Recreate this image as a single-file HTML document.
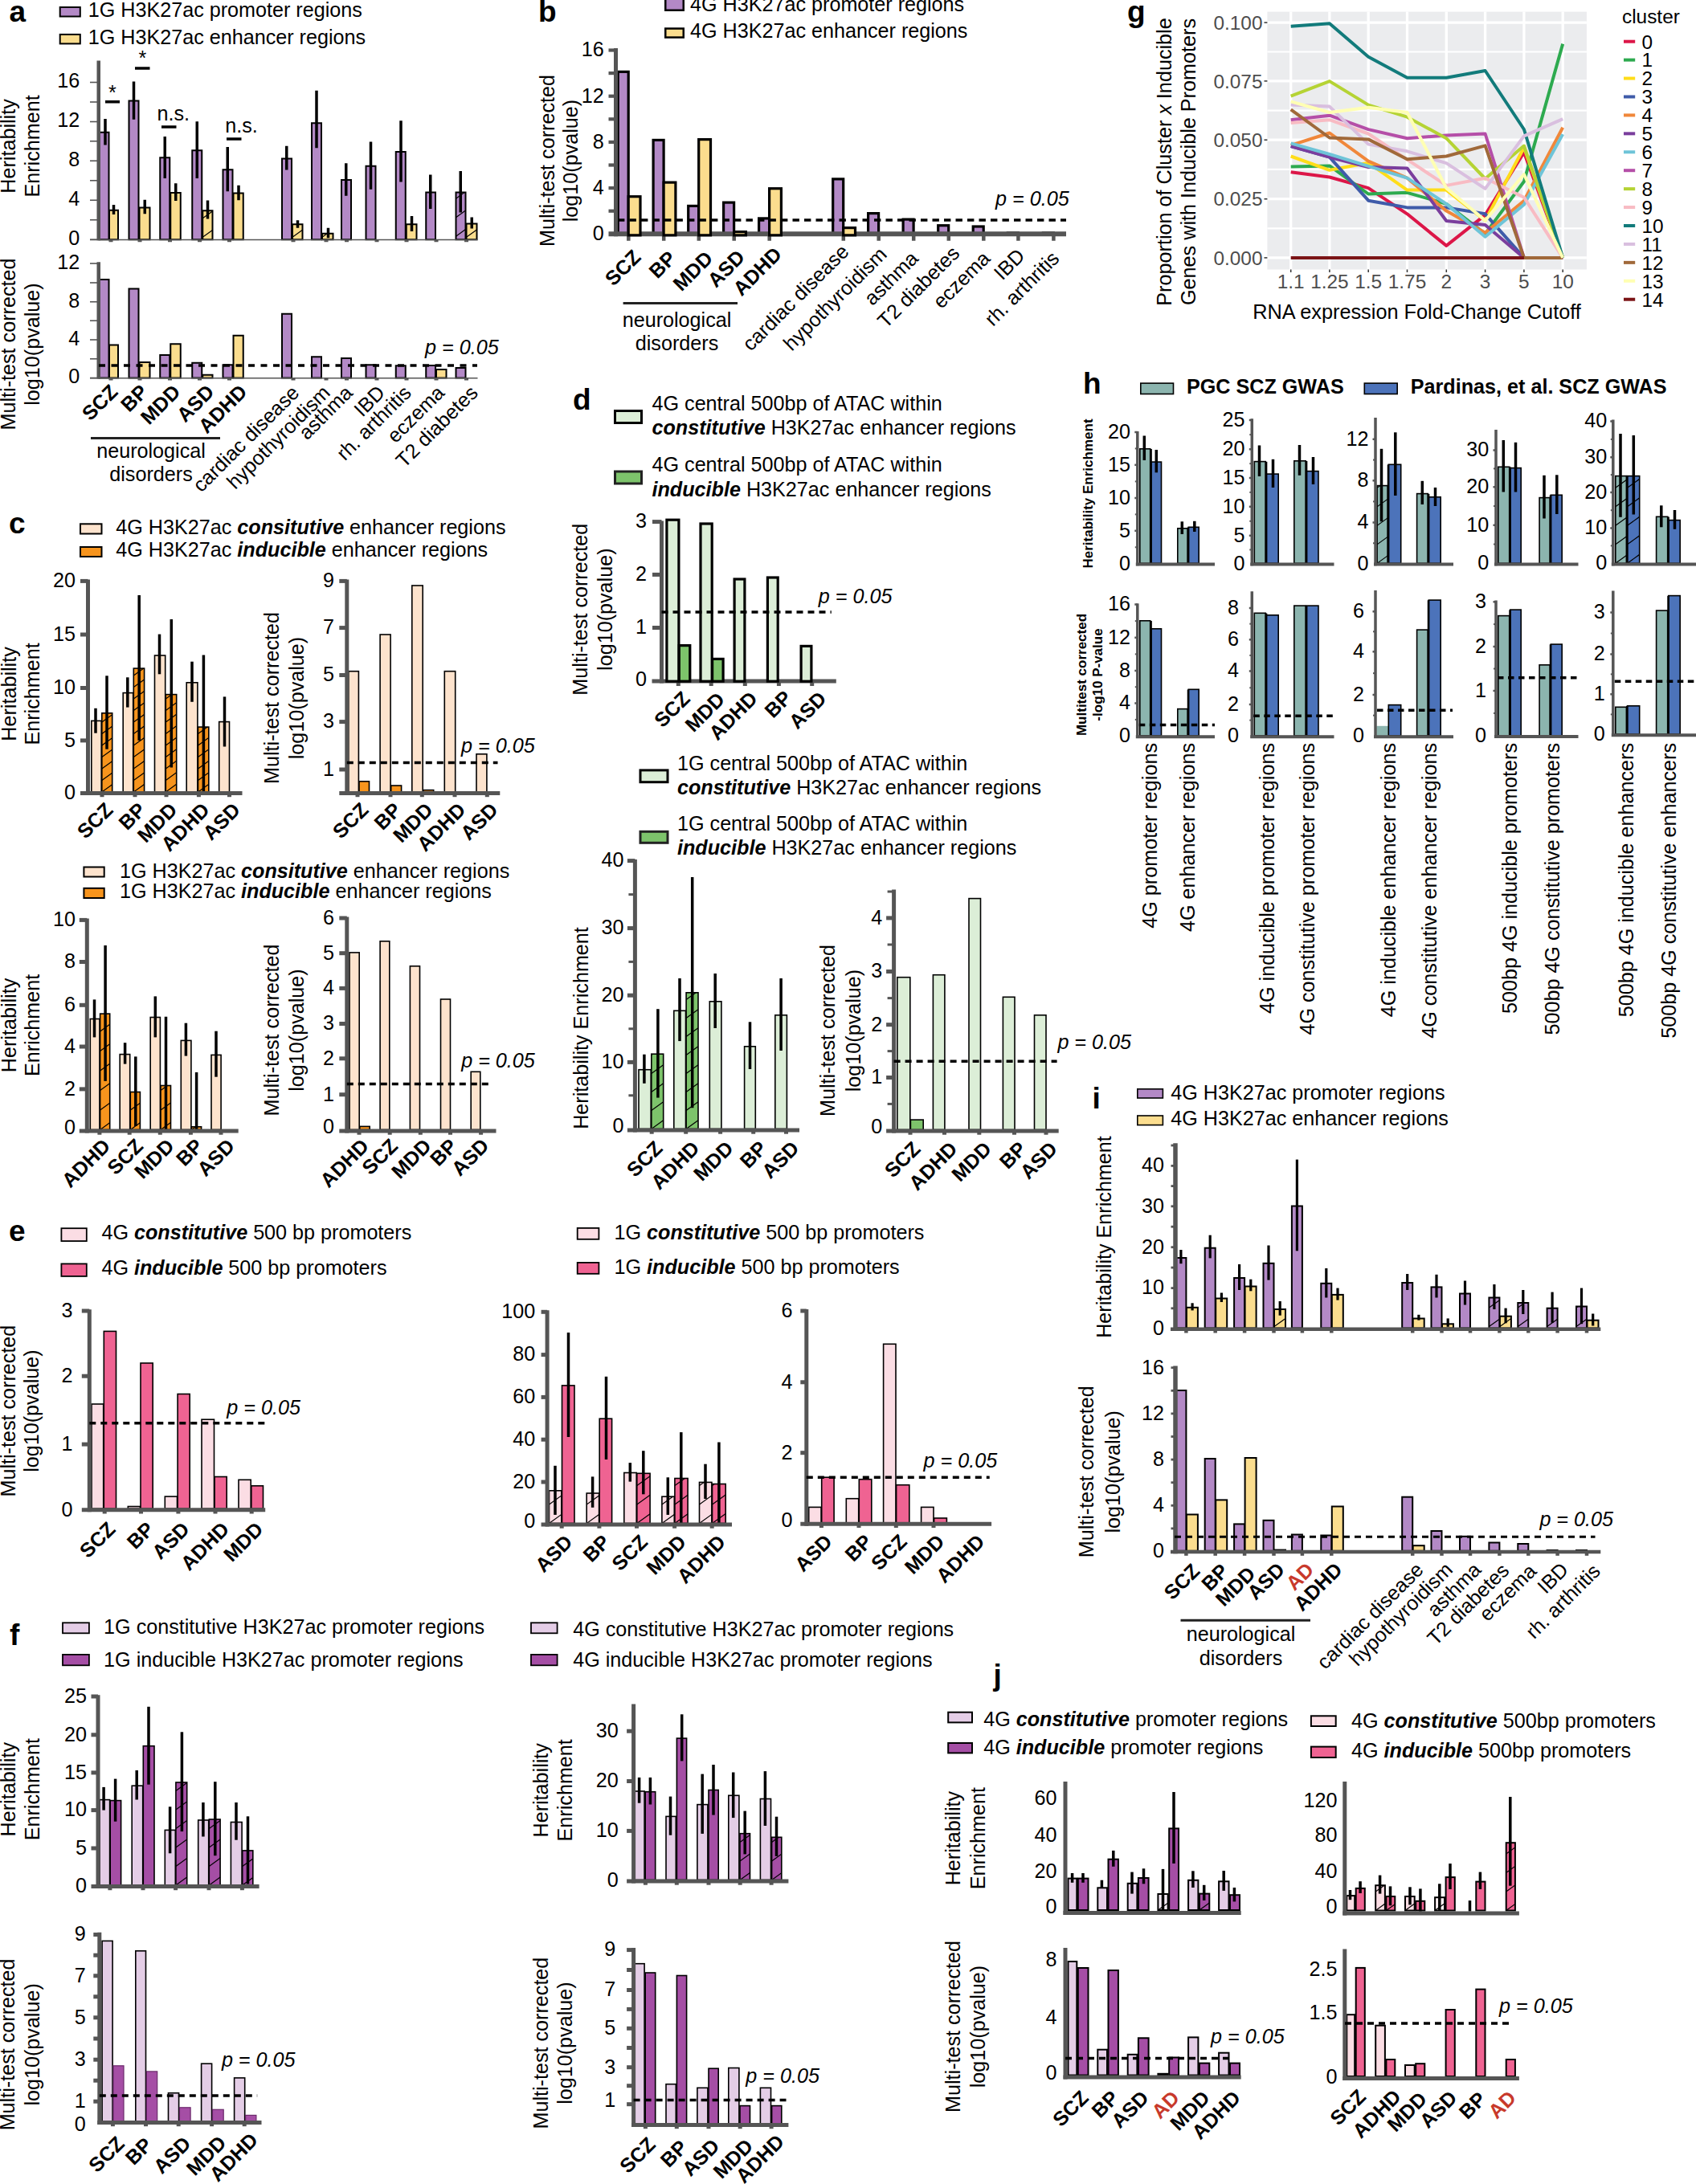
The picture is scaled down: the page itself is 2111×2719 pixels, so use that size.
<!DOCTYPE html>
<html><head><meta charset="utf-8"><title>Figure</title>
<style>html,body{margin:0;padding:0;background:#fff}svg{display:block}text{font-family:"Liberation Sans",sans-serif}</style>
</head><body>
<svg width="2111" height="2719" viewBox="0 0 2111 2719" font-size="25.17" fill="#000">
<rect width="2111" height="2719" fill="#fff"/>
<text font-weight="bold" font-size="37" x="11.5" y="27">a</text><rect x="74.7" y="9" width="25.1" height="11.5" fill="#B389C6" stroke="#000" stroke-width="2"/><text x="109.7" y="20.6">1G H3K27ac promoter regions</text><rect x="74.7" y="42.9" width="25.1" height="11.5" fill="#FBDD8E" stroke="#000" stroke-width="2"/><text x="109.7" y="54.5">1G H3K27ac enhancer regions</text><rect x="123.5" y="164.75" width="12" height="133.5" fill="#B389C6" stroke="#000" stroke-width="2"/><line x1="131" y1="148" x2="131" y2="180.5" stroke="#000" stroke-width="3.5"/><rect x="136" y="261.75" width="11" height="36.5" fill="#FBDD8E" stroke="#000" stroke-width="2"/><line x1="141.5" y1="255" x2="141.5" y2="267" stroke="#000" stroke-width="3.5"/><rect x="160.5" y="125.5" width="12" height="172.75" fill="#B389C6" stroke="#000" stroke-width="2"/><line x1="166.5" y1="101.5" x2="166.5" y2="148.75" stroke="#000" stroke-width="3.5"/><rect x="173.5" y="258.5" width="13" height="39.75" fill="#FBDD8E" stroke="#000" stroke-width="2"/><line x1="180.25" y1="248.75" x2="180.25" y2="266.25" stroke="#000" stroke-width="3.5"/><rect x="199.25" y="196.25" width="12" height="102" fill="#B389C6" stroke="#000" stroke-width="2"/><line x1="205.25" y1="170" x2="205.25" y2="222" stroke="#000" stroke-width="3.5"/><rect x="212.25" y="240" width="12.5" height="58.25" fill="#FBDD8E" stroke="#000" stroke-width="2"/><line x1="218.75" y1="228.25" x2="218.75" y2="250" stroke="#000" stroke-width="3.5"/><rect x="239.25" y="187.25" width="12" height="111" fill="#B389C6" stroke="#000" stroke-width="2"/><line x1="245.25" y1="151.25" x2="245.25" y2="222" stroke="#000" stroke-width="3.5"/><rect x="252.25" y="262.25" width="12.25" height="36" fill="#FBDD8E" stroke="#000" stroke-width="2"/><clipPath id="h1"><rect x="252.25" y="262.25" width="12.25" height="36"/></clipPath><path d="M252.25 295.25L264.5 286.43M252.25 271.75L264.5 262.93M252.25 248.25L264.5 239.43" stroke="#000" stroke-width="1.2" fill="none" clip-path="url(#h1)"/><line x1="258.5" y1="249.5" x2="258.5" y2="272.5" stroke="#000" stroke-width="3.5"/><rect x="277.5" y="211.25" width="12" height="87" fill="#B389C6" stroke="#000" stroke-width="2"/><line x1="283.25" y1="183" x2="283.25" y2="238.25" stroke="#000" stroke-width="3.5"/><rect x="290.5" y="240.5" width="12.25" height="57.75" fill="#FBDD8E" stroke="#000" stroke-width="2"/><line x1="297" y1="230.75" x2="297" y2="249.25" stroke="#000" stroke-width="3.5"/><rect x="351" y="197.5" width="12" height="100.75" fill="#B389C6" stroke="#000" stroke-width="2"/><line x1="356.75" y1="181.75" x2="356.75" y2="211.5" stroke="#000" stroke-width="3.5"/><rect x="364" y="279.25" width="12.5" height="19" fill="#FBDD8E" stroke="#000" stroke-width="2"/><clipPath id="h2"><rect x="364" y="279.25" width="12.5" height="19"/></clipPath><path d="M364 295.25L376.5 286.25M364 271.75L376.5 262.75M364 248.25L376.5 239.25" stroke="#000" stroke-width="1.2" fill="none" clip-path="url(#h2)"/><line x1="370.5" y1="274.25" x2="370.5" y2="283.75" stroke="#000" stroke-width="3.5"/><rect x="388" y="153.25" width="12" height="145" fill="#B389C6" stroke="#000" stroke-width="2"/><line x1="394" y1="112.75" x2="394" y2="184.25" stroke="#000" stroke-width="3.5"/><rect x="401" y="290.75" width="13.5" height="7.5" fill="#FBDD8E" stroke="#000" stroke-width="2"/><clipPath id="h3"><rect x="401" y="290.75" width="13.5" height="7.5"/></clipPath><path d="M401 295.25L414.5 285.53M401 271.75L414.5 262.03" stroke="#000" stroke-width="1.2" fill="none" clip-path="url(#h3)"/><line x1="408.5" y1="283.75" x2="408.5" y2="296.25" stroke="#000" stroke-width="3.5"/><rect x="425" y="224" width="12" height="74.25" fill="#B389C6" stroke="#000" stroke-width="2"/><line x1="430.75" y1="203.25" x2="430.75" y2="243.75" stroke="#000" stroke-width="3.5"/><rect x="455.5" y="206.75" width="12" height="91.5" fill="#B389C6" stroke="#000" stroke-width="2"/><line x1="461.5" y1="176.5" x2="461.5" y2="235.75" stroke="#000" stroke-width="3.5"/><rect x="492.75" y="189" width="12" height="109.25" fill="#B389C6" stroke="#000" stroke-width="2"/><line x1="499" y1="150.25" x2="499" y2="226.5" stroke="#000" stroke-width="3.5"/><rect x="505.75" y="279.25" width="12.75" height="19" fill="#FBDD8E" stroke="#000" stroke-width="2"/><line x1="512.5" y1="269" x2="512.5" y2="288" stroke="#000" stroke-width="3.5"/><rect x="530.25" y="239.5" width="11.75" height="58.75" fill="#B389C6" stroke="#000" stroke-width="2"/><line x1="535.75" y1="217.5" x2="535.75" y2="260" stroke="#000" stroke-width="3.5"/><rect x="567.5" y="239.5" width="12" height="58.75" fill="#B389C6" stroke="#000" stroke-width="2"/><clipPath id="h4"><rect x="567.5" y="239.5" width="12" height="58.75"/></clipPath><path d="M567.5 294.25L579.5 285.61M567.5 270.75L579.5 262.11M567.5 247.25L579.5 238.61M567.5 223.75L579.5 215.11" stroke="#000" stroke-width="1.2" fill="none" clip-path="url(#h4)"/><line x1="573.25" y1="213" x2="573.25" y2="264.5" stroke="#000" stroke-width="3.5"/><rect x="580.5" y="278.5" width="13" height="19.75" fill="#FBDD8E" stroke="#000" stroke-width="2"/><clipPath id="h5"><rect x="580.5" y="278.5" width="13" height="19.75"/></clipPath><path d="M580.5 295.25L593.5 285.89M580.5 271.75L593.5 262.39M580.5 248.25L593.5 238.89" stroke="#000" stroke-width="1.2" fill="none" clip-path="url(#h5)"/><line x1="587.25" y1="270.5" x2="587.25" y2="284.5" stroke="#000" stroke-width="3.5"/><line x1="112" y1="298.55" x2="594.5" y2="298.55" stroke="#555555" stroke-width="1.6"/><rect x="135.5" y="298.75" width="5" height="2.5" fill="#555555"/><rect x="171.5" y="298.75" width="5" height="2.5" fill="#555555"/><rect x="209" y="298.75" width="5" height="2.5" fill="#555555"/><rect x="246" y="298.75" width="5" height="2.5" fill="#555555"/><rect x="283" y="298.75" width="5" height="2.5" fill="#555555"/><rect x="362.5" y="298.75" width="5" height="2.5" fill="#555555"/><rect x="403.5" y="298.75" width="5" height="2.5" fill="#555555"/><rect x="429" y="298.75" width="5" height="2.5" fill="#555555"/><rect x="466.5" y="298.75" width="5" height="2.5" fill="#555555"/><rect x="503.5" y="298.75" width="5" height="2.5" fill="#555555"/><rect x="540.5" y="298.75" width="5" height="2.5" fill="#555555"/><rect x="578" y="298.75" width="5" height="2.5" fill="#555555"/><line x1="122.75" y1="75.5" x2="122.75" y2="299.25" stroke="#555555" stroke-width="4.5"/><line x1="112" y1="102.5" x2="123" y2="102.5" stroke="#555555" stroke-width="1.6"/><line x1="112" y1="127" x2="123" y2="127" stroke="#555555" stroke-width="1.6"/><line x1="112" y1="151.5" x2="123" y2="151.5" stroke="#555555" stroke-width="1.6"/><line x1="112" y1="175.75" x2="123" y2="175.75" stroke="#555555" stroke-width="1.6"/><line x1="112" y1="200.25" x2="123" y2="200.25" stroke="#555555" stroke-width="1.6"/><line x1="112" y1="224.75" x2="123" y2="224.75" stroke="#555555" stroke-width="1.6"/><line x1="112" y1="249.25" x2="123" y2="249.25" stroke="#555555" stroke-width="1.6"/><line x1="112" y1="273.75" x2="123" y2="273.75" stroke="#555555" stroke-width="1.6"/><line x1="112" y1="298.25" x2="123" y2="298.25" stroke="#555555" stroke-width="1.6"/><text text-anchor="end" x="99.3" y="109.38">16</text><text text-anchor="end" x="99.3" y="158.38">12</text><text text-anchor="end" x="99.3" y="207.12">8</text><text text-anchor="end" x="99.3" y="256.12">4</text><text text-anchor="end" x="99.3" y="305.12">0</text><text text-anchor="middle" transform="translate(19 182) rotate(-90)">Heritability</text><text text-anchor="middle" transform="translate(48.5 182) rotate(-90)">Enrichment</text><line x1="131" y1="126.75" x2="149" y2="126.75" stroke="#000" stroke-width="3.5"/><text text-anchor="middle" x="140" y="124">*</text><line x1="168" y1="85" x2="186.5" y2="85" stroke="#000" stroke-width="3.5"/><text text-anchor="middle" x="177.3" y="81">*</text><line x1="201" y1="158" x2="219.5" y2="158" stroke="#000" stroke-width="3.5"/><text x="195.5" y="150">n.s.</text><line x1="282" y1="173" x2="300.5" y2="173" stroke="#000" stroke-width="3.5"/><text x="280.3" y="165">n.s.</text><rect x="123.5" y="348" width="12" height="122.5" fill="#B389C6" stroke="#000" stroke-width="2"/><rect x="136" y="429.5" width="11" height="41" fill="#FBDD8E" stroke="#000" stroke-width="2"/><rect x="160.5" y="359.5" width="12" height="111" fill="#B389C6" stroke="#000" stroke-width="2"/><rect x="173.5" y="451" width="13" height="19.5" fill="#FBDD8E" stroke="#000" stroke-width="2"/><rect x="199.25" y="442" width="12" height="28.5" fill="#B389C6" stroke="#000" stroke-width="2"/><rect x="212.25" y="428.25" width="12.5" height="42.25" fill="#FBDD8E" stroke="#000" stroke-width="2"/><rect x="239.25" y="451.75" width="12" height="18.75" fill="#B389C6" stroke="#000" stroke-width="2"/><rect x="252.25" y="466.75" width="12.25" height="3.75" fill="#FBDD8E" stroke="#000" stroke-width="2"/><rect x="277.5" y="454.25" width="12" height="16.25" fill="#B389C6" stroke="#000" stroke-width="2"/><rect x="290.5" y="417.75" width="12.25" height="52.75" fill="#FBDD8E" stroke="#000" stroke-width="2"/><rect x="351" y="390.75" width="12" height="79.75" fill="#B389C6" stroke="#000" stroke-width="2"/><rect x="388" y="444.25" width="12" height="26.25" fill="#B389C6" stroke="#000" stroke-width="2"/><rect x="425" y="446" width="12" height="24.5" fill="#B389C6" stroke="#000" stroke-width="2"/><rect x="455.5" y="454.25" width="12" height="16.25" fill="#B389C6" stroke="#000" stroke-width="2"/><rect x="492.75" y="455.25" width="12" height="15.25" fill="#B389C6" stroke="#000" stroke-width="2"/><rect x="530.25" y="455" width="11.75" height="15.5" fill="#B389C6" stroke="#000" stroke-width="2"/><rect x="543" y="460" width="12.5" height="10.5" fill="#FBDD8E" stroke="#000" stroke-width="2"/><rect x="567.5" y="458" width="12" height="12.5" fill="#B389C6" stroke="#000" stroke-width="2"/><line x1="112" y1="470.8" x2="594.5" y2="470.8" stroke="#555555" stroke-width="1.6"/><rect x="135.5" y="471" width="5" height="2.5" fill="#555555"/><rect x="171.5" y="471" width="5" height="2.5" fill="#555555"/><rect x="209" y="471" width="5" height="2.5" fill="#555555"/><rect x="246" y="471" width="5" height="2.5" fill="#555555"/><rect x="283" y="471" width="5" height="2.5" fill="#555555"/><rect x="362.5" y="471" width="5" height="2.5" fill="#555555"/><rect x="403.5" y="471" width="5" height="2.5" fill="#555555"/><rect x="429" y="471" width="5" height="2.5" fill="#555555"/><rect x="466.5" y="471" width="5" height="2.5" fill="#555555"/><rect x="503.5" y="471" width="5" height="2.5" fill="#555555"/><rect x="540.5" y="471" width="5" height="2.5" fill="#555555"/><rect x="578" y="471" width="5" height="2.5" fill="#555555"/><line x1="122.75" y1="326.25" x2="122.75" y2="471.5" stroke="#555555" stroke-width="4.5"/><line x1="112" y1="328" x2="123" y2="328" stroke="#555555" stroke-width="1.6"/><line x1="112" y1="352" x2="123" y2="352" stroke="#555555" stroke-width="1.6"/><line x1="112" y1="375.75" x2="123" y2="375.75" stroke="#555555" stroke-width="1.6"/><line x1="112" y1="399.25" x2="123" y2="399.25" stroke="#555555" stroke-width="1.6"/><line x1="112" y1="423" x2="123" y2="423" stroke="#555555" stroke-width="1.6"/><line x1="112" y1="446.75" x2="123" y2="446.75" stroke="#555555" stroke-width="1.6"/><line x1="112" y1="470.5" x2="123" y2="470.5" stroke="#555555" stroke-width="1.6"/><text text-anchor="end" x="99.3" y="334.88">12</text><text text-anchor="end" x="99.3" y="382.62">8</text><text text-anchor="end" x="99.3" y="429.88">4</text><text text-anchor="end" x="99.3" y="477.38">0</text><text text-anchor="middle" transform="translate(19 428.5) rotate(-90)">Multi-test corrected</text><text text-anchor="middle" transform="translate(48.5 428.5) rotate(-90)">log10(pvalue)</text><line x1="123" y1="455" x2="594" y2="455" stroke="#000" stroke-width="3.5" stroke-dasharray="8 7.5"/><text font-style="italic" x="529" y="441">p = 0.05</text><text text-anchor="end" font-weight="bold" transform="translate(148 489.5) rotate(-45)">SCZ</text><text text-anchor="end" font-weight="bold" transform="translate(185.5 489.5) rotate(-45)">BP</text><text text-anchor="end" font-weight="bold" transform="translate(226 489.5) rotate(-45)">MDD</text><text text-anchor="end" font-weight="bold" transform="translate(268 489.5) rotate(-45)">ASD</text><text text-anchor="end" font-weight="bold" transform="translate(309 489.5) rotate(-45)">ADHD</text><text text-anchor="end" transform="translate(374 490.5) rotate(-45)">cardiac disease</text><text text-anchor="end" transform="translate(412.4 490.5) rotate(-45)">hypothyroidism</text><text text-anchor="end" transform="translate(440.5 490.5) rotate(-45)">asthma</text><text text-anchor="end" transform="translate(480.6 490.5) rotate(-45)">IBD</text><text text-anchor="end" transform="translate(513.3 490.5) rotate(-45)">rh. arthritis</text><text text-anchor="end" transform="translate(554.6 490.5) rotate(-45)">eczema</text><text text-anchor="end" transform="translate(596.3 490.5) rotate(-45)">T2 diabetes</text><line x1="113" y1="545.5" x2="274" y2="545.5" stroke="#222" stroke-width="3"/><text text-anchor="middle" x="188" y="570">neurological</text><text text-anchor="middle" x="188" y="599">disorders</text><text font-weight="bold" font-size="37" x="670" y="27">b</text><rect x="828.25" y="-1.75" width="22.5" height="14.5" fill="#B389C6" stroke="#000" stroke-width="2.5"/><text x="859" y="13.8">4G H3K27ac promoter regions</text><rect x="828.25" y="35.55" width="22.5" height="11" fill="#FBDD8E" stroke="#000" stroke-width="2.5"/><text x="859" y="47.3">4G H3K27ac enhancer regions</text><rect x="769.2" y="89.35" width="13" height="202.3" fill="#B389C6" stroke="#000" stroke-width="3.2"/><rect x="813.1" y="174.4" width="13" height="117.25" fill="#B389C6" stroke="#000" stroke-width="3.2"/><rect x="856.7" y="256.4" width="13" height="35.25" fill="#B389C6" stroke="#000" stroke-width="3.2"/><rect x="900.6" y="252.1" width="13" height="39.55" fill="#B389C6" stroke="#000" stroke-width="3.2"/><rect x="944.6" y="271.9" width="13" height="19.75" fill="#B389C6" stroke="#000" stroke-width="3.2"/><rect x="1036.7" y="222.9" width="13" height="68.75" fill="#B389C6" stroke="#000" stroke-width="3.2"/><rect x="1080.6" y="265.6" width="13" height="26.05" fill="#B389C6" stroke="#000" stroke-width="3.2"/><rect x="1124.1" y="273.1" width="13" height="18.55" fill="#B389C6" stroke="#000" stroke-width="3.2"/><rect x="1167.7" y="280.7" width="13" height="10.95" fill="#B389C6" stroke="#000" stroke-width="3.2"/><rect x="1211.2" y="282" width="13" height="9.65" fill="#B389C6" stroke="#000" stroke-width="3.2"/><rect x="1254.3" y="289.9" width="13" height="1.75" fill="#B389C6" stroke="#000" stroke-width="3.2"/><rect x="1298.3" y="289.9" width="13" height="1.75" fill="#B389C6" stroke="#000" stroke-width="3.2"/><line x1="757.5" y1="291.25" x2="1327" y2="291.25" stroke="#555555" stroke-width="6"/><line x1="782.3" y1="293.75" x2="782.3" y2="299.75" stroke="#555555" stroke-width="4.5"/><line x1="826.2" y1="293.75" x2="826.2" y2="299.75" stroke="#555555" stroke-width="4.5"/><line x1="869.8" y1="293.75" x2="869.8" y2="299.75" stroke="#555555" stroke-width="4.5"/><line x1="913.7" y1="293.75" x2="913.7" y2="299.75" stroke="#555555" stroke-width="4.5"/><line x1="957.7" y1="293.75" x2="957.7" y2="299.75" stroke="#555555" stroke-width="4.5"/><line x1="1049.8" y1="293.75" x2="1049.8" y2="299.75" stroke="#555555" stroke-width="4.5"/><line x1="1093.7" y1="293.75" x2="1093.7" y2="299.75" stroke="#555555" stroke-width="4.5"/><line x1="1137.2" y1="293.75" x2="1137.2" y2="299.75" stroke="#555555" stroke-width="4.5"/><line x1="1180.8" y1="293.75" x2="1180.8" y2="299.75" stroke="#555555" stroke-width="4.5"/><line x1="1224.3" y1="293.75" x2="1224.3" y2="299.75" stroke="#555555" stroke-width="4.5"/><line x1="1267.4" y1="293.75" x2="1267.4" y2="299.75" stroke="#555555" stroke-width="4.5"/><line x1="1311.4" y1="293.75" x2="1311.4" y2="299.75" stroke="#555555" stroke-width="4.5"/><rect x="782.2" y="244.7" width="14.8" height="48.15" fill="#FBDD8E" stroke="#000" stroke-width="3.2"/><rect x="826.1" y="227.1" width="14.8" height="65.75" fill="#FBDD8E" stroke="#000" stroke-width="3.2"/><rect x="869.7" y="173.6" width="14.8" height="119.25" fill="#FBDD8E" stroke="#000" stroke-width="3.2"/><rect x="913.6" y="288.6" width="14.8" height="4.25" fill="#FBDD8E" stroke="#000" stroke-width="3.2"/><rect x="957.6" y="234.7" width="14.8" height="58.15" fill="#FBDD8E" stroke="#000" stroke-width="3.2"/><rect x="1049.7" y="283.6" width="14.8" height="9.25" fill="#FBDD8E" stroke="#000" stroke-width="3.2"/><line x1="766.5" y1="60" x2="766.5" y2="294.25" stroke="#555555" stroke-width="5"/><line x1="757.5" y1="62.5" x2="766.5" y2="62.5" stroke="#555555" stroke-width="4.2"/><line x1="757.5" y1="91.1" x2="766.5" y2="91.1" stroke="#555555" stroke-width="4.2"/><line x1="757.5" y1="119.7" x2="766.5" y2="119.7" stroke="#555555" stroke-width="4.2"/><line x1="757.5" y1="148.3" x2="766.5" y2="148.3" stroke="#555555" stroke-width="4.2"/><line x1="757.5" y1="176.9" x2="766.5" y2="176.9" stroke="#555555" stroke-width="4.2"/><line x1="757.5" y1="205.5" x2="766.5" y2="205.5" stroke="#555555" stroke-width="4.2"/><line x1="757.5" y1="234.1" x2="766.5" y2="234.1" stroke="#555555" stroke-width="4.2"/><line x1="757.5" y1="262.7" x2="766.5" y2="262.7" stroke="#555555" stroke-width="4.2"/><text text-anchor="end" x="751.7" y="70.38">16</text><text text-anchor="end" x="751.7" y="127.58">12</text><text text-anchor="end" x="751.7" y="184.78">8</text><text text-anchor="end" x="751.7" y="241.97">4</text><text text-anchor="end" x="751.7" y="299.12">0</text><text text-anchor="middle" transform="translate(689.5 200) rotate(-90)">Multi-test corrected</text><text text-anchor="middle" transform="translate(718.5 200) rotate(-90)">log10(pvalue)</text><line x1="769" y1="274" x2="1327" y2="274" stroke="#000" stroke-width="3.4" stroke-dasharray="8.4 6.1"/><text font-style="italic" x="1239" y="256">p = 0.05</text><text text-anchor="end" font-weight="bold" transform="translate(799.1 321.75) rotate(-45)">SCZ</text><text text-anchor="end" font-weight="bold" transform="translate(843 323.25) rotate(-45)">BP</text><text text-anchor="end" font-weight="bold" transform="translate(888.8 323.25) rotate(-45)">MDD</text><text text-anchor="end" font-weight="bold" transform="translate(928.7 321.75) rotate(-45)">ASD</text><text text-anchor="end" font-weight="bold" transform="translate(974.5 318.25) rotate(-45)">ADHD</text><text text-anchor="end" transform="translate(1058.1 314.75) rotate(-45)">cardiac disease</text><text text-anchor="end" transform="translate(1105.2 318.25) rotate(-45)">hypothyroidism</text><text text-anchor="end" transform="translate(1144.4 323.25) rotate(-45)">asthma</text><text text-anchor="end" transform="translate(1195.8 316.75) rotate(-45)">T2 diabetes</text><text text-anchor="end" transform="translate(1234 323.25) rotate(-45)">eczema</text><text text-anchor="end" transform="translate(1277.1 320.25) rotate(-45)">IBD</text><text text-anchor="end" transform="translate(1320 323.25) rotate(-45)">rh. arthritis</text><line x1="775.6" y1="377.5" x2="918" y2="377.5" stroke="#222" stroke-width="3"/><text text-anchor="middle" x="842.5" y="406.5">neurological</text><text text-anchor="middle" x="842.5" y="436">disorders</text><text font-weight="bold" font-size="37" x="11" y="664">c</text><rect x="100" y="652.3" width="26.5" height="12.2" fill="#FDE3CD" stroke="#000" stroke-width="2"/><text x="144.3" y="665.3">4G H3K27ac <tspan font-weight="bold" font-style="italic">consitutive</tspan> enhancer regions</text><rect x="100" y="681" width="26.5" height="12" fill="#F7941D" stroke="#000" stroke-width="2"/><text x="144.3" y="693">4G H3K27ac <tspan font-weight="bold" font-style="italic">inducible</tspan> enhancer regions</text><rect x="113.8" y="897.4" width="12.4" height="88.6" fill="#FDE3CD" stroke="#000" stroke-width="1.6"/><line x1="119" y1="881.8" x2="119" y2="912.7" stroke="#000" stroke-width="3.5"/><rect x="126.8" y="887.8" width="12.9" height="98.2" fill="#F7941D" stroke="#000" stroke-width="1.6"/><clipPath id="h6"><rect x="126.8" y="887.8" width="12.9" height="98.2"/></clipPath><path d="M126.8 986L139.7 976.71M126.8 971.5L139.7 962.21M126.8 957L139.7 947.71M126.8 942.5L139.7 933.21M126.8 928L139.7 918.71M126.8 913.5L139.7 904.21M126.8 899L139.7 889.71M126.8 884.5L139.7 875.21M126.8 870L139.7 860.71" stroke="#000" stroke-width="1.2" fill="none" clip-path="url(#h6)"/><line x1="133" y1="841.3" x2="133" y2="932.7" stroke="#000" stroke-width="3.5"/><rect x="153.2" y="862.6" width="12.5" height="123.4" fill="#FDE3CD" stroke="#000" stroke-width="1.6"/><line x1="158.8" y1="843.3" x2="158.8" y2="880.6" stroke="#000" stroke-width="3.5"/><rect x="166.3" y="832.1" width="13.3" height="153.9" fill="#F7941D" stroke="#000" stroke-width="1.6"/><clipPath id="h7"><rect x="166.3" y="832.1" width="13.3" height="153.9"/></clipPath><path d="M166.3 986L179.6 976.42M166.3 971.5L179.6 961.92M166.3 957L179.6 947.42M166.3 942.5L179.6 932.92M166.3 928L179.6 918.42M166.3 913.5L179.6 903.92M166.3 899L179.6 889.42M166.3 884.5L179.6 874.92M166.3 870L179.6 860.42M166.3 855.5L179.6 845.92M166.3 841L179.6 831.42M166.3 826.5L179.6 816.92M166.3 812L179.6 802.42" stroke="#000" stroke-width="1.2" fill="none" clip-path="url(#h7)"/><line x1="173.2" y1="741" x2="173.2" y2="921.9" stroke="#000" stroke-width="3.5"/><rect x="192.5" y="816" width="13.2" height="170" fill="#FDE3CD" stroke="#000" stroke-width="1.6"/><line x1="198.5" y1="789.6" x2="198.5" y2="839.3" stroke="#000" stroke-width="3.5"/><rect x="206.3" y="864.6" width="13.4" height="121.4" fill="#F7941D" stroke="#000" stroke-width="1.6"/><clipPath id="h8"><rect x="206.3" y="864.6" width="13.4" height="121.4"/></clipPath><path d="M206.3 986L219.7 976.35M206.3 971.5L219.7 961.85M206.3 957L219.7 947.35M206.3 942.5L219.7 932.85M206.3 928L219.7 918.35M206.3 913.5L219.7 903.85M206.3 899L219.7 889.35M206.3 884.5L219.7 874.85M206.3 870L219.7 860.35M206.3 855.5L219.7 845.85M206.3 841L219.7 831.35" stroke="#000" stroke-width="1.2" fill="none" clip-path="url(#h8)"/><line x1="213.3" y1="771" x2="213.3" y2="955.6" stroke="#000" stroke-width="3.5"/><rect x="232.2" y="849.8" width="13.7" height="136.2" fill="#FDE3CD" stroke="#000" stroke-width="1.6"/><line x1="239" y1="823.7" x2="239" y2="873.8" stroke="#000" stroke-width="3.5"/><rect x="246.5" y="905.1" width="13.3" height="80.9" fill="#F7941D" stroke="#000" stroke-width="1.6"/><clipPath id="h9"><rect x="246.5" y="905.1" width="13.3" height="80.9"/></clipPath><path d="M246.5 986L259.8 976.42M246.5 971.5L259.8 961.92M246.5 957L259.8 947.42M246.5 942.5L259.8 932.92M246.5 928L259.8 918.42M246.5 913.5L259.8 903.92M246.5 899L259.8 889.42M246.5 884.5L259.8 874.92" stroke="#000" stroke-width="1.2" fill="none" clip-path="url(#h9)"/><line x1="253.4" y1="815.6" x2="253.4" y2="987" stroke="#000" stroke-width="3.5"/><rect x="272.7" y="898.6" width="12.8" height="87.4" fill="#FDE3CD" stroke="#000" stroke-width="1.6"/><line x1="279.5" y1="867.4" x2="279.5" y2="929.5" stroke="#000" stroke-width="3.5"/><line x1="100" y1="987.5" x2="301.5" y2="987.5" stroke="#555555" stroke-width="5"/><line x1="127" y1="989" x2="127" y2="992.2" stroke="#555555" stroke-width="5"/><line x1="168" y1="989" x2="168" y2="992.2" stroke="#555555" stroke-width="5"/><line x1="207" y1="989" x2="207" y2="992.2" stroke="#555555" stroke-width="5"/><line x1="247.4" y1="989" x2="247.4" y2="992.2" stroke="#555555" stroke-width="5"/><line x1="285.5" y1="989" x2="285.5" y2="992.2" stroke="#555555" stroke-width="5"/><line x1="109.5" y1="721.4" x2="109.5" y2="990" stroke="#555555" stroke-width="5"/><line x1="100" y1="723.4" x2="109.5" y2="723.4" stroke="#555555" stroke-width="5"/><line x1="100" y1="790" x2="109.5" y2="790" stroke="#555555" stroke-width="5"/><line x1="100" y1="856.5" x2="109.5" y2="856.5" stroke="#555555" stroke-width="5"/><line x1="100" y1="921.9" x2="109.5" y2="921.9" stroke="#555555" stroke-width="5"/><text text-anchor="end" x="94" y="731.27">20</text><text text-anchor="end" x="94" y="797.88">15</text><text text-anchor="end" x="94" y="864.38">10</text><text text-anchor="end" x="94" y="929.77">5</text><text text-anchor="end" x="94" y="994.77">0</text><text text-anchor="middle" transform="translate(19.5 864) rotate(-90)">Heritability</text><text text-anchor="middle" transform="translate(48.5 864) rotate(-90)">Enrichment</text><text text-anchor="end" font-weight="bold" transform="translate(142 1010) rotate(-45)">SCZ</text><text text-anchor="end" font-weight="bold" transform="translate(183 1010) rotate(-45)">BP</text><text text-anchor="end" font-weight="bold" transform="translate(222 1010) rotate(-45)">MDD</text><text text-anchor="end" font-weight="bold" transform="translate(262.4 1010) rotate(-45)">ADHD</text><text text-anchor="end" font-weight="bold" transform="translate(300.5 1010) rotate(-45)">ASD</text><rect x="433.8" y="835.7" width="12.6" height="150.3" fill="#FDE3CD" stroke="#000" stroke-width="1.6"/><rect x="447" y="972.8" width="12.5" height="13.2" fill="#F7941D" stroke="#000" stroke-width="1.6"/><rect x="473.1" y="790" width="13" height="196" fill="#FDE3CD" stroke="#000" stroke-width="1.6"/><rect x="486.7" y="978" width="12.9" height="8" fill="#F7941D" stroke="#000" stroke-width="1.6"/><rect x="512.8" y="729" width="13.4" height="257" fill="#FDE3CD" stroke="#000" stroke-width="1.6"/><rect x="526.8" y="983.6" width="12.9" height="2.4" fill="#F7941D" stroke="#000" stroke-width="1.6"/><rect x="553.3" y="835.7" width="13.4" height="150.3" fill="#FDE3CD" stroke="#000" stroke-width="1.6"/><rect x="567.3" y="986.3" width="12.9" height="0.1" fill="#F7941D" stroke="#000" stroke-width="1.6"/><rect x="593" y="938.8" width="12.9" height="47.2" fill="#FDE3CD" stroke="#000" stroke-width="1.6"/><line x1="422.3" y1="987.5" x2="622.3" y2="987.5" stroke="#555555" stroke-width="5"/><line x1="445" y1="989" x2="445" y2="992.2" stroke="#555555" stroke-width="5"/><line x1="486" y1="989" x2="486" y2="992.2" stroke="#555555" stroke-width="5"/><line x1="525.3" y1="989" x2="525.3" y2="992.2" stroke="#555555" stroke-width="5"/><line x1="566" y1="989" x2="566" y2="992.2" stroke="#555555" stroke-width="5"/><line x1="606.3" y1="989" x2="606.3" y2="992.2" stroke="#555555" stroke-width="5"/><line x1="431.8" y1="721.4" x2="431.8" y2="990" stroke="#555555" stroke-width="5"/><line x1="422.3" y1="723.4" x2="431.8" y2="723.4" stroke="#555555" stroke-width="5"/><line x1="422.3" y1="781.6" x2="431.8" y2="781.6" stroke="#555555" stroke-width="5"/><line x1="422.3" y1="840.5" x2="431.8" y2="840.5" stroke="#555555" stroke-width="5"/><line x1="422.3" y1="898.6" x2="431.8" y2="898.6" stroke="#555555" stroke-width="5"/><line x1="422.3" y1="958" x2="431.8" y2="958" stroke="#555555" stroke-width="5"/><text text-anchor="end" x="416" y="731.27">9</text><text text-anchor="end" x="416" y="789.48">7</text><text text-anchor="end" x="416" y="848.38">5</text><text text-anchor="end" x="416" y="906.48">3</text><text text-anchor="end" x="416" y="965.88">1</text><text text-anchor="middle" transform="translate(346.5 869) rotate(-90)">Multi-test corrected</text><text text-anchor="middle" transform="translate(377.5 869) rotate(-90)">log10(pvalue)</text><line x1="431.8" y1="949.6" x2="619.5" y2="949.6" stroke="#000" stroke-width="3.5" stroke-dasharray="8 6"/><text font-style="italic" x="574" y="936.7">p = 0.05</text><text text-anchor="end" font-weight="bold" transform="translate(460 1010) rotate(-45)">SCZ</text><text text-anchor="end" font-weight="bold" transform="translate(501 1010) rotate(-45)">BP</text><text text-anchor="end" font-weight="bold" transform="translate(540.3 1010) rotate(-45)">MDD</text><text text-anchor="end" font-weight="bold" transform="translate(581 1010) rotate(-45)">ADHD</text><text text-anchor="end" font-weight="bold" transform="translate(621.3 1010) rotate(-45)">ASD</text><rect x="104.4" y="1079.5" width="25.3" height="12" fill="#FDE3CD" stroke="#000" stroke-width="2"/><text x="149" y="1092.9">1G H3K27ac <tspan font-weight="bold" font-style="italic">consitutive</tspan> enhancer regions</text><rect x="104.4" y="1105.8" width="25.3" height="12.2" fill="#F7941D" stroke="#000" stroke-width="2"/><text x="149" y="1118">1G H3K27ac <tspan font-weight="bold" font-style="italic">inducible</tspan> enhancer regions</text><rect x="112.3" y="1268.5" width="11.7" height="138" fill="#FDE3CD" stroke="#000" stroke-width="1.6"/><line x1="117.5" y1="1244.4" x2="117.5" y2="1291.4" stroke="#000" stroke-width="3.5"/><rect x="124.6" y="1262.1" width="12.1" height="144.4" fill="#F7941D" stroke="#000" stroke-width="1.6"/><clipPath id="h10"><rect x="124.6" y="1262.1" width="12.1" height="144.4"/></clipPath><path d="M124.6 1406.5L136.7 1397.79M124.6 1382L136.7 1373.29M124.6 1357.5L136.7 1348.79M124.6 1333L136.7 1324.29M124.6 1308.5L136.7 1299.79M124.6 1284L136.7 1275.29M124.6 1259.5L136.7 1250.79M124.6 1235L136.7 1226.29" stroke="#000" stroke-width="1.2" fill="none" clip-path="url(#h10)"/><line x1="131.1" y1="1177" x2="131.1" y2="1345.9" stroke="#000" stroke-width="3.5"/><rect x="149.2" y="1312.6" width="12.5" height="93.9" fill="#FDE3CD" stroke="#000" stroke-width="1.6"/><line x1="155.6" y1="1298.2" x2="155.6" y2="1324.6" stroke="#000" stroke-width="3.5"/><rect x="162.3" y="1359.5" width="12.1" height="47" fill="#F7941D" stroke="#000" stroke-width="1.6"/><clipPath id="h11"><rect x="162.3" y="1359.5" width="12.1" height="47"/></clipPath><path d="M162.3 1406.5L174.4 1397.79M162.3 1382L174.4 1373.29M162.3 1357.5L174.4 1348.79M162.3 1333L174.4 1324.29" stroke="#000" stroke-width="1.2" fill="none" clip-path="url(#h11)"/><line x1="168.8" y1="1315.4" x2="168.8" y2="1402" stroke="#000" stroke-width="3.5"/><rect x="187.2" y="1266.5" width="12.2" height="140" fill="#FDE3CD" stroke="#000" stroke-width="1.6"/><line x1="193.3" y1="1240.4" x2="193.3" y2="1291.4" stroke="#000" stroke-width="3.5"/><rect x="200" y="1351.5" width="12.5" height="55" fill="#F7941D" stroke="#000" stroke-width="1.6"/><clipPath id="h12"><rect x="200" y="1351.5" width="12.5" height="55"/></clipPath><path d="M200 1406.5L212.5 1397.5M200 1382L212.5 1373M200 1357.5L212.5 1348.5M200 1333L212.5 1324" stroke="#000" stroke-width="1.2" fill="none" clip-path="url(#h12)"/><line x1="206.5" y1="1265.7" x2="206.5" y2="1407" stroke="#000" stroke-width="3.5"/><rect x="225.3" y="1295.4" width="12.6" height="111.1" fill="#FDE3CD" stroke="#000" stroke-width="1.6"/><line x1="231.4" y1="1273.7" x2="231.4" y2="1314.6" stroke="#000" stroke-width="3.5"/><rect x="238.5" y="1402.8" width="12.1" height="3.7" fill="#F7941D" stroke="#000" stroke-width="1.6"/><clipPath id="h13"><rect x="238.5" y="1402.8" width="12.1" height="3.7"/></clipPath><path d="M238.5 1406.5L250.6 1397.79M238.5 1382L250.6 1373.29" stroke="#000" stroke-width="1.2" fill="none" clip-path="url(#h13)"/><line x1="244.6" y1="1335" x2="244.6" y2="1407" stroke="#000" stroke-width="3.5"/><rect x="263" y="1313.4" width="12.1" height="93.1" fill="#FDE3CD" stroke="#000" stroke-width="1.6"/><line x1="269" y1="1283.7" x2="269" y2="1340.7" stroke="#000" stroke-width="3.5"/><line x1="98.8" y1="1408" x2="296.7" y2="1408" stroke="#555555" stroke-width="5"/><line x1="123.9" y1="1409.5" x2="123.9" y2="1412.7" stroke="#555555" stroke-width="5"/><line x1="161.2" y1="1409.5" x2="161.2" y2="1412.7" stroke="#555555" stroke-width="5"/><line x1="199.3" y1="1409.5" x2="199.3" y2="1412.7" stroke="#555555" stroke-width="5"/><line x1="237.4" y1="1409.5" x2="237.4" y2="1412.7" stroke="#555555" stroke-width="5"/><line x1="275" y1="1409.5" x2="275" y2="1412.7" stroke="#555555" stroke-width="5"/><line x1="108.3" y1="1143.4" x2="108.3" y2="1410.5" stroke="#555555" stroke-width="5"/><line x1="98.8" y1="1145.4" x2="108.3" y2="1145.4" stroke="#555555" stroke-width="5"/><line x1="98.8" y1="1197.5" x2="108.3" y2="1197.5" stroke="#555555" stroke-width="5"/><line x1="98.8" y1="1251.3" x2="108.3" y2="1251.3" stroke="#555555" stroke-width="5"/><line x1="98.8" y1="1303" x2="108.3" y2="1303" stroke="#555555" stroke-width="5"/><line x1="98.8" y1="1355.9" x2="108.3" y2="1355.9" stroke="#555555" stroke-width="5"/><text text-anchor="end" x="94" y="1153.28">10</text><text text-anchor="end" x="94" y="1205.38">8</text><text text-anchor="end" x="94" y="1259.17">6</text><text text-anchor="end" x="94" y="1310.88">4</text><text text-anchor="end" x="94" y="1363.78">2</text><text text-anchor="end" x="94" y="1411.88">0</text><text text-anchor="middle" transform="translate(19.5 1276.5) rotate(-90)">Heritability</text><text text-anchor="middle" transform="translate(48.5 1276.5) rotate(-90)">Enrichment</text><text text-anchor="end" font-weight="bold" transform="translate(138.9 1428.5) rotate(-45)">ADHD</text><text text-anchor="end" font-weight="bold" transform="translate(179.7 1428.5) rotate(-45)">SCZ</text><text text-anchor="end" font-weight="bold" transform="translate(218.3 1428.5) rotate(-45)">MDD</text><text text-anchor="end" font-weight="bold" transform="translate(254.4 1428.5) rotate(-45)">BP</text><text text-anchor="end" font-weight="bold" transform="translate(293.5 1428.5) rotate(-45)">ASD</text><rect x="435" y="1185.9" width="12.2" height="220.6" fill="#FDE3CD" stroke="#000" stroke-width="1.6"/><rect x="447.8" y="1402.4" width="12.4" height="4.1" fill="#F7941D" stroke="#000" stroke-width="1.6"/><rect x="473.1" y="1171.8" width="11.7" height="234.7" fill="#FDE3CD" stroke="#000" stroke-width="1.6"/><rect x="510.4" y="1202.8" width="12.1" height="203.7" fill="#FDE3CD" stroke="#000" stroke-width="1.6"/><rect x="548.5" y="1244" width="12" height="162.5" fill="#FDE3CD" stroke="#000" stroke-width="1.6"/><rect x="586.2" y="1334.3" width="11.6" height="72.2" fill="#FDE3CD" stroke="#000" stroke-width="1.6"/><line x1="422.3" y1="1408" x2="617.5" y2="1408" stroke="#555555" stroke-width="5"/><line x1="447" y1="1409.5" x2="447" y2="1412.7" stroke="#555555" stroke-width="5"/><line x1="485.2" y1="1409.5" x2="485.2" y2="1412.7" stroke="#555555" stroke-width="5"/><line x1="523.3" y1="1409.5" x2="523.3" y2="1412.7" stroke="#555555" stroke-width="5"/><line x1="560.5" y1="1409.5" x2="560.5" y2="1412.7" stroke="#555555" stroke-width="5"/><line x1="598.6" y1="1409.5" x2="598.6" y2="1412.7" stroke="#555555" stroke-width="5"/><line x1="431.8" y1="1141.4" x2="431.8" y2="1410.5" stroke="#555555" stroke-width="5"/><line x1="422.3" y1="1143" x2="431.8" y2="1143" stroke="#555555" stroke-width="5"/><line x1="422.3" y1="1186.7" x2="431.8" y2="1186.7" stroke="#555555" stroke-width="5"/><line x1="422.3" y1="1230.4" x2="431.8" y2="1230.4" stroke="#555555" stroke-width="5"/><line x1="422.3" y1="1274.5" x2="431.8" y2="1274.5" stroke="#555555" stroke-width="5"/><line x1="422.3" y1="1317.8" x2="431.8" y2="1317.8" stroke="#555555" stroke-width="5"/><line x1="422.3" y1="1362.7" x2="431.8" y2="1362.7" stroke="#555555" stroke-width="5"/><text text-anchor="end" x="416" y="1150.88">6</text><text text-anchor="end" x="416" y="1194.58">5</text><text text-anchor="end" x="416" y="1238.28">4</text><text text-anchor="end" x="416" y="1282.38">3</text><text text-anchor="end" x="416" y="1325.67">2</text><text text-anchor="end" x="416" y="1370.58">1</text><text text-anchor="end" x="416" y="1411.38">0</text><text text-anchor="middle" transform="translate(346.5 1282.5) rotate(-90)">Multi-test corrected</text><text text-anchor="middle" transform="translate(377.5 1282.5) rotate(-90)">log10(pvalue)</text><line x1="431.8" y1="1349.5" x2="613.5" y2="1349.5" stroke="#000" stroke-width="3.5" stroke-dasharray="8 6"/><text font-style="italic" x="574.2" y="1328.6">p = 0.05</text><text text-anchor="end" font-weight="bold" transform="translate(460.5 1428.5) rotate(-45)">ADHD</text><text text-anchor="end" font-weight="bold" transform="translate(496.7 1428.5) rotate(-45)">SCZ</text><text text-anchor="end" font-weight="bold" transform="translate(538.3 1428.5) rotate(-45)">MDD</text><text text-anchor="end" font-weight="bold" transform="translate(570.5 1428.5) rotate(-45)">BP</text><text text-anchor="end" font-weight="bold" transform="translate(610.1 1428) rotate(-45)">ASD</text><text font-weight="bold" font-size="37" x="713" y="510">d</text><rect x="765.5" y="511.5" width="33" height="15" fill="#DCEED7" stroke="#000" stroke-width="3"/><text x="811.5" y="511">4G central 500bp of ATAC within</text><text x="811.5" y="541.4"><tspan font-weight="bold" font-style="italic">constitutive</tspan> H3K27ac enhancer regions</text><rect x="765.5" y="587" width="33" height="15" fill="#7DC36B" stroke="#222" stroke-width="3"/><text x="811.5" y="587">4G central 500bp of ATAC within</text><text x="811.5" y="617.5"><tspan font-weight="bold" font-style="italic">inducible</tspan> H3K27ac enhancer regions</text><line x1="811.5" y1="848" x2="1040.8" y2="848" stroke="#555555" stroke-width="5"/><line x1="844.3" y1="850" x2="844.3" y2="854" stroke="#555555" stroke-width="5"/><line x1="885.2" y1="850" x2="885.2" y2="854" stroke="#555555" stroke-width="5"/><line x1="927.3" y1="850" x2="927.3" y2="854" stroke="#555555" stroke-width="5"/><line x1="969.4" y1="850" x2="969.4" y2="854" stroke="#555555" stroke-width="5"/><line x1="1010.7" y1="850" x2="1010.7" y2="854" stroke="#555555" stroke-width="5"/><line x1="823.5" y1="648.4" x2="823.5" y2="850.5" stroke="#555555" stroke-width="5"/><line x1="812" y1="649.6" x2="823.5" y2="649.6" stroke="#555555" stroke-width="5"/><line x1="812" y1="715.4" x2="823.5" y2="715.4" stroke="#555555" stroke-width="5"/><line x1="812" y1="781.5" x2="823.5" y2="781.5" stroke="#555555" stroke-width="5"/><text text-anchor="end" x="805" y="657.48">3</text><text text-anchor="end" x="805" y="723.27">2</text><text text-anchor="end" x="805" y="789.38">1</text><text text-anchor="end" x="805" y="854.38">0</text><rect x="829.9" y="647.2" width="15" height="201" fill="#DCEED7" stroke="#000" stroke-width="3.2"/><rect x="845.3" y="803.6" width="13.5" height="44.6" fill="#7DC36B" stroke="#000" stroke-width="3.2"/><rect x="872" y="652" width="14.2" height="196.2" fill="#DCEED7" stroke="#000" stroke-width="3.2"/><rect x="886.6" y="820.4" width="13.5" height="27.8" fill="#7DC36B" stroke="#000" stroke-width="3.2"/><rect x="914.1" y="721" width="12.8" height="127.2" fill="#DCEED7" stroke="#000" stroke-width="3.2"/><rect x="955.4" y="719" width="12.8" height="129.2" fill="#DCEED7" stroke="#000" stroke-width="3.2"/><rect x="997.1" y="804.4" width="12.8" height="43.8" fill="#DCEED7" stroke="#000" stroke-width="3.2"/><text text-anchor="middle" transform="translate(731.4 758.7) rotate(-90)">Multi-test corrected</text><text text-anchor="middle" transform="translate(761.8 758.7) rotate(-90)">log10(pvalue)</text><line x1="823.5" y1="761.9" x2="1034.8" y2="761.9" stroke="#000" stroke-width="3.5" stroke-dasharray="8 6"/><text font-style="italic" x="1018.8" y="750.7">p = 0.05</text><text text-anchor="end" font-weight="bold" transform="translate(860.3 871.5) rotate(-45)">SCZ</text><text text-anchor="end" font-weight="bold" transform="translate(903.7 872.3) rotate(-45)">MDD</text><text text-anchor="end" font-weight="bold" transform="translate(944.3 871.5) rotate(-45)">ADHD</text><text text-anchor="end" font-weight="bold" transform="translate(987 870.5) rotate(-45)">BP</text><text text-anchor="end" font-weight="bold" transform="translate(1030.1 871.5) rotate(-45)">ASD</text><rect x="797" y="958.9" width="34" height="14.8" fill="#DCEED7" stroke="#000" stroke-width="3"/><text x="843" y="959">1G central 500bp of ATAC within</text><text x="843" y="988.8"><tspan font-weight="bold" font-style="italic">constitutive</tspan> H3K27ac enhancer regions</text><rect x="797" y="1035.3" width="34" height="14" fill="#7DC36B" stroke="#222" stroke-width="3"/><text x="843" y="1033.8">1G central 500bp of ATAC within</text><text x="843" y="1063.5"><tspan font-weight="bold" font-style="italic">inducible</tspan> H3K27ac enhancer regions</text><rect x="795" y="1331.7" width="15.2" height="73.8" fill="#DCEED7" stroke="#000" stroke-width="1.6"/><line x1="801.9" y1="1312.7" x2="801.9" y2="1348.8" stroke="#000" stroke-width="3.5"/><rect x="810.8" y="1312.2" width="14.9" height="93.3" fill="#7DC36B" stroke="#000" stroke-width="1.6"/><clipPath id="h14"><rect x="810.8" y="1312.2" width="14.9" height="93.3"/></clipPath><path d="M810.8 1405.5L825.7 1394.77M810.8 1382.5L825.7 1371.77M810.8 1359.5L825.7 1348.77M810.8 1336.5L825.7 1325.77M810.8 1313.5L825.7 1302.77M810.8 1290.5L825.7 1279.77" stroke="#000" stroke-width="1.2" fill="none" clip-path="url(#h14)"/><line x1="818.9" y1="1256.2" x2="818.9" y2="1366.6" stroke="#000" stroke-width="3.5"/><rect x="838.8" y="1258.3" width="14.7" height="147.2" fill="#DCEED7" stroke="#000" stroke-width="1.6"/><line x1="846" y1="1218" x2="846" y2="1296.1" stroke="#000" stroke-width="3.5"/><rect x="854.1" y="1235.8" width="14.9" height="169.7" fill="#7DC36B" stroke="#000" stroke-width="1.6"/><clipPath id="h15"><rect x="854.1" y="1235.8" width="14.9" height="169.7"/></clipPath><path d="M854.1 1405.5L869 1394.77M854.1 1382.5L869 1371.77M854.1 1359.5L869 1348.77M854.1 1336.5L869 1325.77M854.1 1313.5L869 1302.77M854.1 1290.5L869 1279.77M854.1 1267.5L869 1256.77M854.1 1244.5L869 1233.77M854.1 1221.5L869 1210.77" stroke="#000" stroke-width="1.2" fill="none" clip-path="url(#h15)"/><line x1="861.7" y1="1091.9" x2="861.7" y2="1379.3" stroke="#000" stroke-width="3.5"/><rect x="883.3" y="1246.8" width="14.6" height="158.7" fill="#DCEED7" stroke="#000" stroke-width="1.6"/><line x1="890.2" y1="1212" x2="890.2" y2="1280" stroke="#000" stroke-width="3.5"/><rect x="926.6" y="1302.8" width="13.7" height="102.7" fill="#DCEED7" stroke="#000" stroke-width="1.6"/><line x1="933.5" y1="1272.3" x2="933.5" y2="1331" stroke="#000" stroke-width="3.5"/><rect x="964.8" y="1263.8" width="14.6" height="141.7" fill="#DCEED7" stroke="#000" stroke-width="1.6"/><line x1="972.1" y1="1218" x2="972.1" y2="1308" stroke="#000" stroke-width="3.5"/><line x1="780.9" y1="1407" x2="995" y2="1407" stroke="#555555" stroke-width="5"/><line x1="811.2" y1="1408.5" x2="811.2" y2="1411.7" stroke="#555555" stroke-width="5"/><line x1="853.7" y1="1408.5" x2="853.7" y2="1411.7" stroke="#555555" stroke-width="5"/><line x1="896.6" y1="1408.5" x2="896.6" y2="1411.7" stroke="#555555" stroke-width="5"/><line x1="937.7" y1="1408.5" x2="937.7" y2="1411.7" stroke="#555555" stroke-width="5"/><line x1="978.5" y1="1408.5" x2="978.5" y2="1411.7" stroke="#555555" stroke-width="5"/><line x1="790.4" y1="1069.9" x2="790.4" y2="1409.5" stroke="#555555" stroke-width="5"/><line x1="780.9" y1="1071.6" x2="790.4" y2="1071.6" stroke="#555555" stroke-width="5"/><line x1="780.9" y1="1155.6" x2="790.4" y2="1155.6" stroke="#555555" stroke-width="5"/><line x1="780.9" y1="1239.2" x2="790.4" y2="1239.2" stroke="#555555" stroke-width="5"/><line x1="780.9" y1="1322.4" x2="790.4" y2="1322.4" stroke="#555555" stroke-width="5"/><line x1="782.4" y1="1113.6" x2="790.4" y2="1113.6" stroke="#555555" stroke-width="3"/><line x1="782.4" y1="1197.4" x2="790.4" y2="1197.4" stroke="#555555" stroke-width="3"/><line x1="782.4" y1="1280.8" x2="790.4" y2="1280.8" stroke="#555555" stroke-width="3"/><line x1="782.4" y1="1363.8" x2="790.4" y2="1363.8" stroke="#555555" stroke-width="3"/><text text-anchor="end" x="776.4" y="1079.47">40</text><text text-anchor="end" x="776.4" y="1163.47">30</text><text text-anchor="end" x="776.4" y="1247.08">20</text><text text-anchor="end" x="776.4" y="1330.28">10</text><text text-anchor="end" x="776.4" y="1410.38">0</text><text text-anchor="middle" transform="translate(731.8 1280) rotate(-90)">Heritability Enrichment</text><text text-anchor="end" font-weight="bold" transform="translate(826.2 1431.2) rotate(-45)">SCZ</text><text text-anchor="end" font-weight="bold" transform="translate(872.1 1431.2) rotate(-45)">ADHD</text><text text-anchor="end" font-weight="bold" transform="translate(914.3 1431.2) rotate(-45)">MDD</text><text text-anchor="end" font-weight="bold" transform="translate(956.1 1431.2) rotate(-45)">BP</text><text text-anchor="end" font-weight="bold" transform="translate(996.2 1431.2) rotate(-45)">ASD</text><rect x="1116.8" y="1216.7" width="16" height="189.8" fill="#DCEED7" stroke="#000" stroke-width="1.6"/><rect x="1133.4" y="1394.1" width="15.8" height="12.4" fill="#7DC36B" stroke="#000" stroke-width="1.6"/><rect x="1161.4" y="1213.7" width="14.5" height="192.8" fill="#DCEED7" stroke="#000" stroke-width="1.6"/><rect x="1206" y="1118.6" width="14.5" height="287.9" fill="#DCEED7" stroke="#000" stroke-width="1.6"/><rect x="1248.4" y="1241.3" width="14.6" height="165.2" fill="#DCEED7" stroke="#000" stroke-width="1.6"/><rect x="1287.5" y="1263.8" width="14.5" height="142.7" fill="#DCEED7" stroke="#000" stroke-width="1.6"/><line x1="1103.1" y1="1408" x2="1317.7" y2="1408" stroke="#555555" stroke-width="5"/><line x1="1133" y1="1409.5" x2="1133" y2="1412.7" stroke="#555555" stroke-width="5"/><line x1="1175.5" y1="1409.5" x2="1175.5" y2="1412.7" stroke="#555555" stroke-width="5"/><line x1="1218.8" y1="1409.5" x2="1218.8" y2="1412.7" stroke="#555555" stroke-width="5"/><line x1="1262.5" y1="1409.5" x2="1262.5" y2="1412.7" stroke="#555555" stroke-width="5"/><line x1="1302" y1="1409.5" x2="1302" y2="1412.7" stroke="#555555" stroke-width="5"/><line x1="1112.6" y1="1107.6" x2="1112.6" y2="1410.5" stroke="#555555" stroke-width="5"/><line x1="1103.1" y1="1142.9" x2="1112.6" y2="1142.9" stroke="#555555" stroke-width="5"/><line x1="1103.1" y1="1209.5" x2="1112.6" y2="1209.5" stroke="#555555" stroke-width="5"/><line x1="1103.1" y1="1275.7" x2="1112.6" y2="1275.7" stroke="#555555" stroke-width="5"/><line x1="1103.1" y1="1341.5" x2="1112.6" y2="1341.5" stroke="#555555" stroke-width="5"/><line x1="1104.6" y1="1110" x2="1112.6" y2="1110" stroke="#555555" stroke-width="3"/><line x1="1104.6" y1="1176" x2="1112.6" y2="1176" stroke="#555555" stroke-width="3"/><line x1="1104.6" y1="1242.6" x2="1112.6" y2="1242.6" stroke="#555555" stroke-width="3"/><line x1="1104.6" y1="1308.6" x2="1112.6" y2="1308.6" stroke="#555555" stroke-width="3"/><line x1="1104.6" y1="1374.4" x2="1112.6" y2="1374.4" stroke="#555555" stroke-width="3"/><text text-anchor="end" x="1098.2" y="1150.78">4</text><text text-anchor="end" x="1098.2" y="1217.38">3</text><text text-anchor="end" x="1098.2" y="1283.58">2</text><text text-anchor="end" x="1098.2" y="1349.38">1</text><text text-anchor="end" x="1098.2" y="1410.88">0</text><text text-anchor="middle" transform="translate(1038.8 1283) rotate(-90)">Multi-test corrected</text><text text-anchor="middle" transform="translate(1070.5 1283) rotate(-90)">log10(pvalue)</text><line x1="1112.6" y1="1321.2" x2="1315.6" y2="1321.2" stroke="#000" stroke-width="3.5" stroke-dasharray="8 6"/><text font-style="italic" x="1316.4" y="1306.3">p = 0.05</text><text text-anchor="end" font-weight="bold" transform="translate(1147 1432) rotate(-45)">SCZ</text><text text-anchor="end" font-weight="bold" transform="translate(1193.2 1432) rotate(-45)">ADHD</text><text text-anchor="end" font-weight="bold" transform="translate(1235.5 1432) rotate(-45)">MDD</text><text text-anchor="end" font-weight="bold" transform="translate(1279.2 1432) rotate(-45)">BP</text><text text-anchor="end" font-weight="bold" transform="translate(1317.7 1432) rotate(-45)">ASD</text><text font-weight="bold" font-size="37" x="11" y="1545.3">e</text><rect x="76.4" y="1529.2" width="31.4" height="15.9" fill="#FBDDE4" stroke="#000" stroke-width="1.8"/><text x="126.4" y="1543.4">4G <tspan font-weight="bold" font-style="italic">constitutive</tspan> 500 bp promoters</text><rect x="76.4" y="1573.4" width="31.4" height="15.5" fill="#EF6392" stroke="#000" stroke-width="1.8"/><text x="126.4" y="1586.8">4G <tspan font-weight="bold" font-style="italic">inducible</tspan> 500 bp promoters</text><rect x="114" y="1748" width="14.7" height="130.3" fill="#FBDDE4" stroke="#000" stroke-width="1.6"/><rect x="129.3" y="1657.4" width="15.2" height="220.9" fill="#EF6392" stroke="#000" stroke-width="1.6"/><rect x="159.3" y="1875.5" width="15.1" height="2.8" fill="#FBDDE4" stroke="#000" stroke-width="1.6"/><rect x="175" y="1697" width="15.2" height="181.3" fill="#EF6392" stroke="#000" stroke-width="1.6"/><rect x="205.3" y="1863.1" width="15.2" height="15.2" fill="#FBDDE4" stroke="#000" stroke-width="1.6"/><rect x="221.1" y="1735.5" width="15.1" height="142.8" fill="#EF6392" stroke="#000" stroke-width="1.6"/><rect x="251" y="1767.2" width="15.5" height="111.1" fill="#FBDDE4" stroke="#000" stroke-width="1.6"/><rect x="267.1" y="1838.5" width="15.1" height="39.8" fill="#EF6392" stroke="#000" stroke-width="1.6"/><rect x="297" y="1842.3" width="15.2" height="36" fill="#FBDDE4" stroke="#000" stroke-width="1.6"/><rect x="312.8" y="1849.8" width="14.7" height="28.5" fill="#EF6392" stroke="#000" stroke-width="1.6"/><line x1="101.8" y1="1879.8" x2="330.2" y2="1879.8" stroke="#555555" stroke-width="5"/><line x1="130.2" y1="1881.3" x2="130.2" y2="1884.5" stroke="#555555" stroke-width="5"/><line x1="175.5" y1="1881.3" x2="175.5" y2="1884.5" stroke="#555555" stroke-width="5"/><line x1="221.9" y1="1881.3" x2="221.9" y2="1884.5" stroke="#555555" stroke-width="5"/><line x1="268" y1="1881.3" x2="268" y2="1884.5" stroke="#555555" stroke-width="5"/><line x1="313.2" y1="1881.3" x2="313.2" y2="1884.5" stroke="#555555" stroke-width="5"/><line x1="111.3" y1="1630.2" x2="111.3" y2="1882.3" stroke="#555555" stroke-width="5"/><line x1="101.8" y1="1632" x2="111.3" y2="1632" stroke="#555555" stroke-width="5"/><line x1="101.8" y1="1713.2" x2="111.3" y2="1713.2" stroke="#555555" stroke-width="5"/><line x1="101.8" y1="1798.1" x2="111.3" y2="1798.1" stroke="#555555" stroke-width="5"/><text text-anchor="end" x="90.6" y="1639.88">3</text><text text-anchor="end" x="90.6" y="1721.08">2</text><text text-anchor="end" x="90.6" y="1805.97">1</text><text text-anchor="end" x="90.6" y="1887.88">0</text><text text-anchor="middle" transform="translate(19.1 1756.6) rotate(-90)">Multi-test corrected</text><text text-anchor="middle" transform="translate(48.1 1756.6) rotate(-90)">log10(pvalue)</text><line x1="111.3" y1="1771.7" x2="331.3" y2="1771.7" stroke="#000" stroke-width="3.5" stroke-dasharray="8 6"/><text font-style="italic" x="282.3" y="1761">p = 0.05</text><text text-anchor="end" font-weight="bold" transform="translate(145.2 1905.3) rotate(-45)">SCZ</text><text text-anchor="end" font-weight="bold" transform="translate(193.3 1905.3) rotate(-45)">BP</text><text text-anchor="end" font-weight="bold" transform="translate(237.4 1905.3) rotate(-45)">ASD</text><text text-anchor="end" font-weight="bold" transform="translate(286.8 1905.3) rotate(-45)">ADHD</text><text text-anchor="end" font-weight="bold" transform="translate(329.2 1905.3) rotate(-45)">MDD</text><rect x="718.7" y="1528.9" width="26.7" height="13.9" fill="#FBDDE4" stroke="#000" stroke-width="1.8"/><text x="764.5" y="1543.3">1G <tspan font-weight="bold" font-style="italic">constitutive</tspan> 500 bp promoters</text><rect x="718.7" y="1571.9" width="26.7" height="13.9" fill="#EF6392" stroke="#000" stroke-width="1.8"/><text x="764.5" y="1585.8">1G <tspan font-weight="bold" font-style="italic">inducible</tspan> 500 bp promoters</text><rect x="683.5" y="1855.8" width="15.4" height="40.7" fill="#FBDDE4" stroke="#000" stroke-width="1.6"/><clipPath id="h16"><rect x="683.5" y="1855.8" width="15.4" height="40.7"/></clipPath><path d="M683.5 1896.5L698.9 1885.41M683.5 1873L698.9 1861.91M683.5 1849.5L698.9 1838.41M683.5 1826L698.9 1814.91" stroke="#000" stroke-width="1.2" fill="none" clip-path="url(#h16)"/><line x1="691" y1="1824.8" x2="691" y2="1885.9" stroke="#000" stroke-width="3.5"/><rect x="699.5" y="1724.9" width="15.5" height="171.6" fill="#EF6392" stroke="#000" stroke-width="1.6"/><line x1="707.5" y1="1658.9" x2="707.5" y2="1788.9" stroke="#000" stroke-width="3.5"/><rect x="730.2" y="1859" width="15.4" height="37.5" fill="#FBDDE4" stroke="#000" stroke-width="1.6"/><clipPath id="h17"><rect x="730.2" y="1859" width="15.4" height="37.5"/></clipPath><path d="M730.2 1896.5L745.6 1885.41M730.2 1873L745.6 1861.91M730.2 1849.5L745.6 1838.41M730.2 1826L745.6 1814.91" stroke="#000" stroke-width="1.2" fill="none" clip-path="url(#h17)"/><line x1="737.6" y1="1838.4" x2="737.6" y2="1876.8" stroke="#000" stroke-width="3.5"/><rect x="746.2" y="1766.2" width="15.4" height="130.3" fill="#EF6392" stroke="#000" stroke-width="1.6"/><line x1="754.5" y1="1713.8" x2="754.5" y2="1817" stroke="#000" stroke-width="3.5"/><rect x="776.8" y="1833.5" width="15.4" height="63" fill="#FBDDE4" stroke="#000" stroke-width="1.6"/><line x1="784.3" y1="1821.1" x2="784.3" y2="1844.6" stroke="#000" stroke-width="3.5"/><rect x="792.8" y="1834.3" width="16.3" height="62.2" fill="#EF6392" stroke="#000" stroke-width="1.6"/><clipPath id="h18"><rect x="792.8" y="1834.3" width="16.3" height="62.2"/></clipPath><path d="M792.8 1896.5L809.1 1884.76M792.8 1873L809.1 1861.26M792.8 1849.5L809.1 1837.76M792.8 1826L809.1 1814.26M792.8 1802.5L809.1 1790.76" stroke="#000" stroke-width="1.2" fill="none" clip-path="url(#h18)"/><line x1="800.8" y1="1806.2" x2="800.8" y2="1860.3" stroke="#000" stroke-width="3.5"/><rect x="823.9" y="1863.2" width="15.4" height="33.3" fill="#FBDDE4" stroke="#000" stroke-width="1.6"/><clipPath id="h19"><rect x="823.9" y="1863.2" width="15.4" height="33.3"/></clipPath><path d="M823.9 1896.5L839.3 1885.41M823.9 1873L839.3 1861.91M823.9 1849.5L839.3 1838.41" stroke="#000" stroke-width="1.2" fill="none" clip-path="url(#h19)"/><line x1="831.3" y1="1839.3" x2="831.3" y2="1885.9" stroke="#000" stroke-width="3.5"/><rect x="839.9" y="1840.5" width="16.2" height="56" fill="#EF6392" stroke="#000" stroke-width="1.6"/><clipPath id="h20"><rect x="839.9" y="1840.5" width="16.2" height="56"/></clipPath><path d="M839.9 1896.5L856.1 1884.84M839.9 1873L856.1 1861.34M839.9 1849.5L856.1 1837.84M839.9 1826L856.1 1814.34" stroke="#000" stroke-width="1.2" fill="none" clip-path="url(#h20)"/><line x1="847.8" y1="1783.1" x2="847.8" y2="1897.5" stroke="#000" stroke-width="3.5"/><rect x="870.5" y="1845.4" width="15.4" height="51.1" fill="#FBDDE4" stroke="#000" stroke-width="1.6"/><clipPath id="h21"><rect x="870.5" y="1845.4" width="15.4" height="51.1"/></clipPath><path d="M870.5 1896.5L885.9 1885.41M870.5 1873L885.9 1861.91M870.5 1849.5L885.9 1838.41M870.5 1826L885.9 1814.91" stroke="#000" stroke-width="1.2" fill="none" clip-path="url(#h21)"/><line x1="878" y1="1822.7" x2="878" y2="1866" stroke="#000" stroke-width="3.5"/><rect x="886.5" y="1847.5" width="16.7" height="49" fill="#EF6392" stroke="#000" stroke-width="1.6"/><clipPath id="h22"><rect x="886.5" y="1847.5" width="16.7" height="49"/></clipPath><path d="M886.5 1896.5L903.2 1884.48M886.5 1873L903.2 1860.98M886.5 1849.5L903.2 1837.48M886.5 1826L903.2 1813.98" stroke="#000" stroke-width="1.2" fill="none" clip-path="url(#h22)"/><line x1="894.9" y1="1795.5" x2="894.9" y2="1897.5" stroke="#000" stroke-width="3.5"/><line x1="673.6" y1="1898" x2="911" y2="1898" stroke="#555555" stroke-width="5"/><line x1="699.2" y1="1899.5" x2="699.2" y2="1902.7" stroke="#555555" stroke-width="5"/><line x1="745.9" y1="1899.5" x2="745.9" y2="1902.7" stroke="#555555" stroke-width="5"/><line x1="792.5" y1="1899.5" x2="792.5" y2="1902.7" stroke="#555555" stroke-width="5"/><line x1="839.6" y1="1899.5" x2="839.6" y2="1902.7" stroke="#555555" stroke-width="5"/><line x1="886.2" y1="1899.5" x2="886.2" y2="1902.7" stroke="#555555" stroke-width="5"/><line x1="681.1" y1="1631.2" x2="681.1" y2="1900.5" stroke="#555555" stroke-width="5"/><line x1="673.6" y1="1633.3" x2="681.1" y2="1633.3" stroke="#555555" stroke-width="5"/><line x1="673.6" y1="1686.6" x2="681.1" y2="1686.6" stroke="#555555" stroke-width="5"/><line x1="673.6" y1="1739.4" x2="681.1" y2="1739.4" stroke="#555555" stroke-width="5"/><line x1="673.6" y1="1792.2" x2="681.1" y2="1792.2" stroke="#555555" stroke-width="5"/><line x1="673.6" y1="1845" x2="681.1" y2="1845" stroke="#555555" stroke-width="5"/><text text-anchor="end" x="666.2" y="1641.17">100</text><text text-anchor="end" x="666.2" y="1694.47">80</text><text text-anchor="end" x="666.2" y="1747.28">60</text><text text-anchor="end" x="666.2" y="1800.08">40</text><text text-anchor="end" x="666.2" y="1852.88">20</text><text text-anchor="end" x="666.2" y="1902.38">0</text><text text-anchor="end" font-weight="bold" transform="translate(714.2 1921.5) rotate(-45)">ASD</text><text text-anchor="end" font-weight="bold" transform="translate(760.9 1921.5) rotate(-45)">BP</text><text text-anchor="end" font-weight="bold" transform="translate(807.5 1921.5) rotate(-45)">SCZ</text><text text-anchor="end" font-weight="bold" transform="translate(855.6 1921.5) rotate(-45)">MDD</text><text text-anchor="end" font-weight="bold" transform="translate(904.7 1921.5) rotate(-45)">ADHD</text><rect x="1006.7" y="1876.4" width="15.4" height="19.4" fill="#FBDDE4" stroke="#000" stroke-width="1.6"/><rect x="1022.7" y="1839.2" width="15.4" height="56.6" fill="#EF6392" stroke="#000" stroke-width="1.6"/><rect x="1053.3" y="1865.7" width="15.4" height="30.1" fill="#FBDDE4" stroke="#000" stroke-width="1.6"/><rect x="1069.3" y="1841.7" width="15.5" height="54.1" fill="#EF6392" stroke="#000" stroke-width="1.6"/><rect x="1099.6" y="1673.3" width="15.4" height="222.5" fill="#FBDDE4" stroke="#000" stroke-width="1.6"/><rect x="1115.6" y="1848.7" width="16.2" height="47.1" fill="#EF6392" stroke="#000" stroke-width="1.6"/><rect x="1146.6" y="1876.4" width="15.4" height="19.4" fill="#FBDDE4" stroke="#000" stroke-width="1.6"/><rect x="1162.6" y="1890" width="15.8" height="5.8" fill="#EF6392" stroke="#000" stroke-width="1.6"/><line x1="996.3" y1="1897.3" x2="1234.1" y2="1897.3" stroke="#555555" stroke-width="5"/><line x1="1022.4" y1="1898.8" x2="1022.4" y2="1902" stroke="#555555" stroke-width="5"/><line x1="1069" y1="1898.8" x2="1069" y2="1902" stroke="#555555" stroke-width="5"/><line x1="1115.3" y1="1898.8" x2="1115.3" y2="1902" stroke="#555555" stroke-width="5"/><line x1="1162" y1="1898.8" x2="1162" y2="1902" stroke="#555555" stroke-width="5"/><line x1="1003.8" y1="1630" x2="1003.8" y2="1899.8" stroke="#555555" stroke-width="5"/><line x1="996.3" y1="1632" x2="1003.8" y2="1632" stroke="#555555" stroke-width="5"/><line x1="996.3" y1="1720.8" x2="1003.8" y2="1720.8" stroke="#555555" stroke-width="5"/><line x1="996.3" y1="1808.7" x2="1003.8" y2="1808.7" stroke="#555555" stroke-width="5"/><text text-anchor="end" x="986.5" y="1639.88">6</text><text text-anchor="end" x="986.5" y="1728.67">4</text><text text-anchor="end" x="986.5" y="1816.58">2</text><text text-anchor="end" x="986.5" y="1901.38">0</text><line x1="1003.8" y1="1839.3" x2="1231.7" y2="1839.3" stroke="#000" stroke-width="3.5" stroke-dasharray="8 6"/><text font-style="italic" x="1149.5" y="1827.3">p = 0.05</text><text text-anchor="end" font-weight="bold" transform="translate(1037.4 1920.8) rotate(-45)">ASD</text><text text-anchor="end" font-weight="bold" transform="translate(1087 1920.8) rotate(-45)">BP</text><text text-anchor="end" font-weight="bold" transform="translate(1130.3 1920.8) rotate(-45)">SCZ</text><text text-anchor="end" font-weight="bold" transform="translate(1177 1920.8) rotate(-45)">MDD</text><text text-anchor="end" font-weight="bold" transform="translate(1227.1 1920.8) rotate(-45)">ADHD</text><text font-weight="bold" font-size="37" x="12" y="2048.4">f</text><rect x="78" y="2020.3" width="32.9" height="13" fill="#E4CDE6" stroke="#000" stroke-width="1.8"/><text x="129.1" y="2034.2">1G constitutive H3K27ac promoter regions</text><rect x="78" y="2059.9" width="32.9" height="13.4" fill="#A54EA5" stroke="#000" stroke-width="1.8"/><text x="129.1" y="2074.9">1G inducible H3K27ac promoter regions</text><rect x="123.9" y="2240.6" width="12.7" height="106.4" fill="#E4CDE6" stroke="#000" stroke-width="1.6"/><line x1="129.1" y1="2224.9" x2="129.1" y2="2253.6" stroke="#000" stroke-width="3.5"/><rect x="137.2" y="2241.6" width="13.4" height="105.4" fill="#A54EA5" stroke="#000" stroke-width="1.6"/><line x1="143.6" y1="2214.6" x2="143.6" y2="2267.7" stroke="#000" stroke-width="3.5"/><rect x="164.2" y="2223.2" width="13.5" height="123.8" fill="#E4CDE6" stroke="#000" stroke-width="1.6"/><line x1="170.2" y1="2204" x2="170.2" y2="2240.5" stroke="#000" stroke-width="3.5"/><rect x="178.3" y="2173.7" width="13.7" height="173.3" fill="#A54EA5" stroke="#000" stroke-width="1.6"/><line x1="185" y1="2124.8" x2="185" y2="2221.7" stroke="#000" stroke-width="3.5"/><rect x="205.3" y="2278.4" width="13" height="68.6" fill="#E4CDE6" stroke="#000" stroke-width="1.6"/><line x1="211.6" y1="2249.3" x2="211.6" y2="2307.3" stroke="#000" stroke-width="3.5"/><rect x="218.9" y="2219" width="13.8" height="128" fill="#A54EA5" stroke="#000" stroke-width="1.6"/><clipPath id="h23"><rect x="218.9" y="2219" width="13.8" height="128"/></clipPath><path d="M218.9 2347L232.7 2337.06M218.9 2323.5L232.7 2313.56M218.9 2300L232.7 2290.06M218.9 2276.5L232.7 2266.56M218.9 2253L232.7 2243.06M218.9 2229.5L232.7 2219.56M218.9 2206L232.7 2196.06" stroke="#000" stroke-width="1.2" fill="none" clip-path="url(#h23)"/><line x1="226.4" y1="2156.3" x2="226.4" y2="2280.1" stroke="#000" stroke-width="3.5"/><rect x="246.7" y="2266" width="13" height="81" fill="#E4CDE6" stroke="#000" stroke-width="1.6"/><line x1="252.9" y1="2244" x2="252.9" y2="2286.5" stroke="#000" stroke-width="3.5"/><rect x="260.3" y="2265" width="13.8" height="82" fill="#A54EA5" stroke="#000" stroke-width="1.6"/><clipPath id="h24"><rect x="260.3" y="2265" width="13.8" height="82"/></clipPath><path d="M260.3 2347L274.1 2337.06M260.3 2323.5L274.1 2313.56M260.3 2300L274.1 2290.06M260.3 2276.5L274.1 2266.56M260.3 2253L274.1 2243.06" stroke="#000" stroke-width="1.2" fill="none" clip-path="url(#h24)"/><line x1="267.8" y1="2218.2" x2="267.8" y2="2310.2" stroke="#000" stroke-width="3.5"/><rect x="287.4" y="2268.5" width="13.7" height="78.5" fill="#E4CDE6" stroke="#000" stroke-width="1.6"/><line x1="294" y1="2244" x2="294" y2="2290.7" stroke="#000" stroke-width="3.5"/><rect x="301.7" y="2303.9" width="13.1" height="43.1" fill="#A54EA5" stroke="#000" stroke-width="1.6"/><clipPath id="h25"><rect x="301.7" y="2303.9" width="13.1" height="43.1"/></clipPath><path d="M301.7 2347L314.8 2337.57M301.7 2323.5L314.8 2314.07M301.7 2300L314.8 2290.57M301.7 2276.5L314.8 2267.07" stroke="#000" stroke-width="1.2" fill="none" clip-path="url(#h25)"/><line x1="308.5" y1="2261.3" x2="308.5" y2="2345.5" stroke="#000" stroke-width="3.5"/><line x1="113.5" y1="2348.5" x2="322.6" y2="2348.5" stroke="#555555" stroke-width="5"/><line x1="136.9" y1="2350" x2="136.9" y2="2353.2" stroke="#555555" stroke-width="5"/><line x1="178" y1="2350" x2="178" y2="2353.2" stroke="#555555" stroke-width="5"/><line x1="218.6" y1="2350" x2="218.6" y2="2353.2" stroke="#555555" stroke-width="5"/><line x1="260" y1="2350" x2="260" y2="2353.2" stroke="#555555" stroke-width="5"/><line x1="301.4" y1="2350" x2="301.4" y2="2353.2" stroke="#555555" stroke-width="5"/><line x1="122" y1="2110.3" x2="122" y2="2351" stroke="#555555" stroke-width="5"/><line x1="113.5" y1="2112" x2="122" y2="2112" stroke="#555555" stroke-width="5"/><line x1="113.5" y1="2159.8" x2="122" y2="2159.8" stroke="#555555" stroke-width="5"/><line x1="113.5" y1="2206.9" x2="122" y2="2206.9" stroke="#555555" stroke-width="5"/><line x1="113.5" y1="2253.6" x2="122" y2="2253.6" stroke="#555555" stroke-width="5"/><line x1="113.5" y1="2301" x2="122" y2="2301" stroke="#555555" stroke-width="5"/><text text-anchor="end" x="107.9" y="2119.88">25</text><text text-anchor="end" x="107.9" y="2167.68">20</text><text text-anchor="end" x="107.9" y="2214.78">15</text><text text-anchor="end" x="107.9" y="2261.47">10</text><text text-anchor="end" x="107.9" y="2308.88">5</text><text text-anchor="end" x="107.9" y="2355.88">0</text><text text-anchor="middle" transform="translate(19.1 2227.7) rotate(-90)">Heritability</text><text text-anchor="middle" transform="translate(48.5 2227.7) rotate(-90)">Enrichment</text><rect x="127.1" y="2416.4" width="13" height="224.6" fill="#E4CDE6" stroke="#000" stroke-width="1.6"/><rect x="141" y="2571.8" width="13" height="69.2" fill="#A54EA5" stroke="#6b2a6b" stroke-width="1.2"/><rect x="168.8" y="2428.8" width="12.7" height="212.2" fill="#E4CDE6" stroke="#000" stroke-width="1.6"/><rect x="182.4" y="2578.9" width="13.3" height="62.1" fill="#A54EA5" stroke="#6b2a6b" stroke-width="1.2"/><rect x="209.5" y="2605.7" width="13.1" height="35.3" fill="#E4CDE6" stroke="#000" stroke-width="1.6"/><rect x="223.5" y="2623.8" width="13.6" height="17.2" fill="#A54EA5" stroke="#6b2a6b" stroke-width="1.2"/><rect x="250.6" y="2569.2" width="13" height="71.8" fill="#E4CDE6" stroke="#000" stroke-width="1.6"/><rect x="264.5" y="2626.3" width="13.7" height="14.7" fill="#A54EA5" stroke="#6b2a6b" stroke-width="1.2"/><rect x="291.6" y="2586.9" width="13.1" height="54.1" fill="#E4CDE6" stroke="#000" stroke-width="1.6"/><rect x="305.6" y="2633.4" width="13.3" height="7.6" fill="#A54EA5" stroke="#6b2a6b" stroke-width="1.2"/><line x1="121.3" y1="2642.5" x2="325.5" y2="2642.5" stroke="#555555" stroke-width="5"/><line x1="140.4" y1="2644" x2="140.4" y2="2647.2" stroke="#555555" stroke-width="5"/><line x1="181.5" y1="2644" x2="181.5" y2="2647.2" stroke="#555555" stroke-width="5"/><line x1="222.2" y1="2644" x2="222.2" y2="2647.2" stroke="#555555" stroke-width="5"/><line x1="263.6" y1="2644" x2="263.6" y2="2647.2" stroke="#555555" stroke-width="5"/><line x1="304.2" y1="2644" x2="304.2" y2="2647.2" stroke="#555555" stroke-width="5"/><line x1="123.8" y1="2405.7" x2="123.8" y2="2645" stroke="#555555" stroke-width="5"/><line x1="116.3" y1="2408.5" x2="123.8" y2="2408.5" stroke="#555555" stroke-width="5"/><line x1="116.3" y1="2459.8" x2="123.8" y2="2459.8" stroke="#555555" stroke-width="5"/><line x1="116.3" y1="2511.8" x2="123.8" y2="2511.8" stroke="#555555" stroke-width="5"/><line x1="116.3" y1="2564.2" x2="123.8" y2="2564.2" stroke="#555555" stroke-width="5"/><line x1="116.3" y1="2616.2" x2="123.8" y2="2616.2" stroke="#555555" stroke-width="5"/><line x1="116.3" y1="2434.2" x2="123.8" y2="2434.2" stroke="#555555" stroke-width="5"/><line x1="116.3" y1="2485.8" x2="123.8" y2="2485.8" stroke="#555555" stroke-width="5"/><line x1="116.3" y1="2538" x2="123.8" y2="2538" stroke="#555555" stroke-width="5"/><line x1="116.3" y1="2590.2" x2="123.8" y2="2590.2" stroke="#555555" stroke-width="5"/><text text-anchor="end" x="106.8" y="2416.38">9</text><text text-anchor="end" x="106.8" y="2467.68">7</text><text text-anchor="end" x="106.8" y="2519.68">5</text><text text-anchor="end" x="106.8" y="2572.07">3</text><text text-anchor="end" x="106.8" y="2624.07">1</text><text text-anchor="end" x="106.8" y="2653.38">0</text><text text-anchor="middle" transform="translate(18.4 2545.4) rotate(-90)">Multi-test corrected</text><text text-anchor="middle" transform="translate(48.5 2545.4) rotate(-90)">log10(pvalue)</text><line x1="123.8" y1="2609.1" x2="320.2" y2="2609.1" stroke="#000" stroke-width="3.5" stroke-dasharray="8 6"/><text font-style="italic" x="275.9" y="2573">p = 0.05</text><text text-anchor="end" font-weight="bold" transform="translate(156.4 2670.3) rotate(-45)">SCZ</text><text text-anchor="end" font-weight="bold" transform="translate(191.2 2672) rotate(-45)">BP</text><text text-anchor="end" font-weight="bold" transform="translate(239 2670.3) rotate(-45)">ASD</text><text text-anchor="end" font-weight="bold" transform="translate(283 2669.4) rotate(-45)">MDD</text><text text-anchor="end" font-weight="bold" transform="translate(322.7 2666) rotate(-45)">ADHD</text><rect x="661" y="2020.3" width="32.6" height="13" fill="#E4CDE6" stroke="#000" stroke-width="1.8"/><text x="713.2" y="2036.7">4G constitutive H3K27ac promoter regions</text><rect x="661" y="2059.9" width="32.6" height="13.4" fill="#A54EA5" stroke="#000" stroke-width="1.8"/><text x="713.2" y="2074.9">4G inducible H3K27ac promoter regions</text><rect x="790.1" y="2230" width="12" height="110.5" fill="#E4CDE6" stroke="#000" stroke-width="1.6"/><line x1="795.6" y1="2212.9" x2="795.6" y2="2244.7" stroke="#000" stroke-width="3.5"/><rect x="803.2" y="2230.7" width="12.5" height="109.8" fill="#A54EA5" stroke="#000" stroke-width="1.6"/><line x1="809.4" y1="2212.9" x2="809.4" y2="2246.5" stroke="#000" stroke-width="3.5"/><rect x="829" y="2261.4" width="12.3" height="79.1" fill="#E4CDE6" stroke="#000" stroke-width="1.6"/><line x1="834.5" y1="2236.6" x2="834.5" y2="2284.7" stroke="#000" stroke-width="3.5"/><rect x="842.4" y="2164.1" width="12.2" height="176.4" fill="#A54EA5" stroke="#000" stroke-width="1.6"/><line x1="848.7" y1="2134.3" x2="848.7" y2="2192.4" stroke="#000" stroke-width="3.5"/><rect x="867.9" y="2246.6" width="13" height="93.9" fill="#E4CDE6" stroke="#000" stroke-width="1.6"/><line x1="874.2" y1="2208.6" x2="874.2" y2="2282.9" stroke="#000" stroke-width="3.5"/><rect x="882" y="2228.5" width="12.2" height="112" fill="#A54EA5" stroke="#000" stroke-width="1.6"/><line x1="888" y1="2197" x2="888" y2="2259.6" stroke="#000" stroke-width="3.5"/><rect x="906.8" y="2235.3" width="13.1" height="105.2" fill="#E4CDE6" stroke="#000" stroke-width="1.6"/><line x1="912.7" y1="2206.5" x2="912.7" y2="2263.1" stroke="#000" stroke-width="3.5"/><rect x="921" y="2282.7" width="12.5" height="57.8" fill="#A54EA5" stroke="#000" stroke-width="1.6"/><clipPath id="h26"><rect x="921" y="2282.7" width="12.5" height="57.8"/></clipPath><path d="M921 2340.5L933.5 2331.5M921 2317L933.5 2308M921 2293.5L933.5 2284.5M921 2270L933.5 2261" stroke="#000" stroke-width="1.2" fill="none" clip-path="url(#h26)"/><line x1="927.2" y1="2254.6" x2="927.2" y2="2308.4" stroke="#000" stroke-width="3.5"/><rect x="946.4" y="2239.5" width="13.1" height="101" fill="#E4CDE6" stroke="#000" stroke-width="1.6"/><line x1="952.4" y1="2205.1" x2="952.4" y2="2273" stroke="#000" stroke-width="3.5"/><rect x="960.6" y="2287.3" width="12.2" height="53.2" fill="#A54EA5" stroke="#000" stroke-width="1.6"/><clipPath id="h27"><rect x="960.6" y="2287.3" width="12.2" height="53.2"/></clipPath><path d="M960.6 2340.5L972.8 2331.72M960.6 2317L972.8 2308.22M960.6 2293.5L972.8 2284.72M960.6 2270L972.8 2261.22" stroke="#000" stroke-width="1.2" fill="none" clip-path="url(#h27)"/><line x1="966.5" y1="2261.7" x2="966.5" y2="2310.9" stroke="#000" stroke-width="3.5"/><line x1="780.1" y1="2342" x2="981.4" y2="2342" stroke="#555555" stroke-width="5"/><line x1="803.4" y1="2343.5" x2="803.4" y2="2346.7" stroke="#555555" stroke-width="5"/><line x1="842.3" y1="2343.5" x2="842.3" y2="2346.7" stroke="#555555" stroke-width="5"/><line x1="882" y1="2343.5" x2="882" y2="2346.7" stroke="#555555" stroke-width="5"/><line x1="921.2" y1="2343.5" x2="921.2" y2="2346.7" stroke="#555555" stroke-width="5"/><line x1="960.1" y1="2343.5" x2="960.1" y2="2346.7" stroke="#555555" stroke-width="5"/><line x1="788.6" y1="2121.6" x2="788.6" y2="2344.5" stroke="#555555" stroke-width="5"/><line x1="780.1" y1="2155.2" x2="788.6" y2="2155.2" stroke="#555555" stroke-width="5"/><line x1="780.1" y1="2217.5" x2="788.6" y2="2217.5" stroke="#555555" stroke-width="5"/><line x1="780.1" y1="2279.4" x2="788.6" y2="2279.4" stroke="#555555" stroke-width="5"/><text text-anchor="end" x="769.8" y="2163.07">30</text><text text-anchor="end" x="769.8" y="2225.38">20</text><text text-anchor="end" x="769.8" y="2287.28">10</text><text text-anchor="end" x="769.8" y="2349.47">0</text><text text-anchor="middle" transform="translate(682.1 2228.8) rotate(-90)">Heritability</text><text text-anchor="middle" transform="translate(711.8 2228.8) rotate(-90)">Enrichment</text><rect x="790.1" y="2444.7" width="12" height="199.3" fill="#E4CDE6" stroke="#000" stroke-width="1.6"/><rect x="803.2" y="2456" width="12.5" height="188" fill="#A54EA5" stroke="#000" stroke-width="1.6"/><rect x="829" y="2594.7" width="12.3" height="49.3" fill="#E4CDE6" stroke="#000" stroke-width="1.6"/><rect x="842.4" y="2459.5" width="12.2" height="184.5" fill="#A54EA5" stroke="#000" stroke-width="1.6"/><rect x="867.9" y="2599.3" width="13" height="44.7" fill="#E4CDE6" stroke="#000" stroke-width="1.6"/><rect x="882" y="2575.2" width="12.2" height="68.8" fill="#A54EA5" stroke="#000" stroke-width="1.6"/><rect x="906.8" y="2574.5" width="13.1" height="69.5" fill="#E4CDE6" stroke="#000" stroke-width="1.6"/><rect x="921" y="2621.6" width="12.5" height="22.4" fill="#A54EA5" stroke="#000" stroke-width="1.6"/><rect x="946.4" y="2599.3" width="13.1" height="44.7" fill="#E4CDE6" stroke="#000" stroke-width="1.6"/><rect x="960.6" y="2621.6" width="12.2" height="22.4" fill="#A54EA5" stroke="#000" stroke-width="1.6"/><line x1="786.1" y1="2645.5" x2="981.4" y2="2645.5" stroke="#555555" stroke-width="5"/><line x1="803.4" y1="2647" x2="803.4" y2="2650.2" stroke="#555555" stroke-width="5"/><line x1="842.3" y1="2647" x2="842.3" y2="2650.2" stroke="#555555" stroke-width="5"/><line x1="882" y1="2647" x2="882" y2="2650.2" stroke="#555555" stroke-width="5"/><line x1="921.2" y1="2647" x2="921.2" y2="2650.2" stroke="#555555" stroke-width="5"/><line x1="960.1" y1="2647" x2="960.1" y2="2650.2" stroke="#555555" stroke-width="5"/><line x1="788.6" y1="2425.1" x2="788.6" y2="2648" stroke="#555555" stroke-width="5"/><line x1="780.1" y1="2427.6" x2="788.6" y2="2427.6" stroke="#555555" stroke-width="5"/><line x1="780.1" y1="2477.5" x2="788.6" y2="2477.5" stroke="#555555" stroke-width="5"/><line x1="780.1" y1="2525.3" x2="788.6" y2="2525.3" stroke="#555555" stroke-width="5"/><line x1="780.1" y1="2573.7" x2="788.6" y2="2573.7" stroke="#555555" stroke-width="5"/><line x1="780.1" y1="2619.7" x2="788.6" y2="2619.7" stroke="#555555" stroke-width="5"/><line x1="780.1" y1="2452.5" x2="788.6" y2="2452.5" stroke="#555555" stroke-width="5"/><line x1="780.1" y1="2501.4" x2="788.6" y2="2501.4" stroke="#555555" stroke-width="5"/><line x1="780.1" y1="2549.5" x2="788.6" y2="2549.5" stroke="#555555" stroke-width="5"/><line x1="780.1" y1="2596.7" x2="788.6" y2="2596.7" stroke="#555555" stroke-width="5"/><text text-anchor="end" x="766.3" y="2435.47">9</text><text text-anchor="end" x="766.3" y="2485.38">7</text><text text-anchor="end" x="766.3" y="2533.18">5</text><text text-anchor="end" x="766.3" y="2581.57">3</text><text text-anchor="end" x="766.3" y="2623.38">1</text><text text-anchor="middle" transform="translate(682.1 2543.6) rotate(-90)">Multi-test corrected</text><text text-anchor="middle" transform="translate(711.8 2543.6) rotate(-90)">log10(pvalue)</text><line x1="788.6" y1="2614.4" x2="978.5" y2="2614.4" stroke="#000" stroke-width="3.5" stroke-dasharray="8 6"/><text font-style="italic" x="928.3" y="2593.2">p = 0.05</text><text text-anchor="end" font-weight="bold" transform="translate(817.4 2671.5) rotate(-45)">SCZ</text><text text-anchor="end" font-weight="bold" transform="translate(857.3 2675) rotate(-45)">BP</text><text text-anchor="end" font-weight="bold" transform="translate(897 2673.3) rotate(-45)">ASD</text><text text-anchor="end" font-weight="bold" transform="translate(938.8 2673.3) rotate(-45)">MDD</text><text text-anchor="end" font-weight="bold" transform="translate(977.7 2668) rotate(-45)">ADHD</text><text font-weight="bold" font-size="37" x="1403" y="26.5">g</text><rect x="1577.4" y="14.6" width="397.5" height="320.9" fill="#EBECEE"/><line x1="1577.4" y1="64.5" x2="1974.9" y2="64.5" stroke="#fff" stroke-width="2.2"/><line x1="1577.4" y1="137.55" x2="1974.9" y2="137.55" stroke="#fff" stroke-width="2.2"/><line x1="1577.4" y1="210.95" x2="1974.9" y2="210.95" stroke="#fff" stroke-width="2.2"/><line x1="1577.4" y1="284.3" x2="1974.9" y2="284.3" stroke="#fff" stroke-width="2.2"/><line x1="1577.4" y1="28.1" x2="1974.9" y2="28.1" stroke="#fff" stroke-width="3.3"/><line x1="1577.4" y1="100.9" x2="1974.9" y2="100.9" stroke="#fff" stroke-width="3.3"/><line x1="1577.4" y1="174.2" x2="1974.9" y2="174.2" stroke="#fff" stroke-width="3.3"/><line x1="1577.4" y1="247.7" x2="1974.9" y2="247.7" stroke="#fff" stroke-width="3.3"/><line x1="1577.4" y1="320.9" x2="1974.9" y2="320.9" stroke="#fff" stroke-width="3.3"/><line x1="1606.7" y1="14.6" x2="1606.7" y2="335.5" stroke="#fff" stroke-width="3.3"/><line x1="1654.9" y1="14.6" x2="1654.9" y2="335.5" stroke="#fff" stroke-width="3.3"/><line x1="1703.2" y1="14.6" x2="1703.2" y2="335.5" stroke="#fff" stroke-width="3.3"/><line x1="1751.5" y1="14.6" x2="1751.5" y2="335.5" stroke="#fff" stroke-width="3.3"/><line x1="1800.3" y1="14.6" x2="1800.3" y2="335.5" stroke="#fff" stroke-width="3.3"/><line x1="1848.6" y1="14.6" x2="1848.6" y2="335.5" stroke="#fff" stroke-width="3.3"/><line x1="1896.9" y1="14.6" x2="1896.9" y2="335.5" stroke="#fff" stroke-width="3.3"/><line x1="1945.2" y1="14.6" x2="1945.2" y2="335.5" stroke="#fff" stroke-width="3.3"/><text text-anchor="end" fill="#4D4D4D" font-size="24.4" x="1571.5" y="36.7">0.100</text><line x1="1573.5" y1="28.1" x2="1577.4" y2="28.1" stroke="#333" stroke-width="1.5"/><text text-anchor="end" fill="#4D4D4D" font-size="24.4" x="1571.5" y="109.5">0.075</text><line x1="1573.5" y1="100.9" x2="1577.4" y2="100.9" stroke="#333" stroke-width="1.5"/><text text-anchor="end" fill="#4D4D4D" font-size="24.4" x="1571.5" y="182.8">0.050</text><line x1="1573.5" y1="174.2" x2="1577.4" y2="174.2" stroke="#333" stroke-width="1.5"/><text text-anchor="end" fill="#4D4D4D" font-size="24.4" x="1571.5" y="256.3">0.025</text><line x1="1573.5" y1="247.7" x2="1577.4" y2="247.7" stroke="#333" stroke-width="1.5"/><text text-anchor="end" fill="#4D4D4D" font-size="24.4" x="1571.5" y="329.5">0.000</text><line x1="1573.5" y1="320.9" x2="1577.4" y2="320.9" stroke="#333" stroke-width="1.5"/><text text-anchor="middle" fill="#4D4D4D" font-size="24.4" x="1606.7" y="359.4">1.1</text><line x1="1606.7" y1="335.5" x2="1606.7" y2="339" stroke="#333" stroke-width="1.5"/><text text-anchor="middle" fill="#4D4D4D" font-size="24.4" x="1654.9" y="359.4">1.25</text><line x1="1654.9" y1="335.5" x2="1654.9" y2="339" stroke="#333" stroke-width="1.5"/><text text-anchor="middle" fill="#4D4D4D" font-size="24.4" x="1703.2" y="359.4">1.5</text><line x1="1703.2" y1="335.5" x2="1703.2" y2="339" stroke="#333" stroke-width="1.5"/><text text-anchor="middle" fill="#4D4D4D" font-size="24.4" x="1751.5" y="359.4">1.75</text><line x1="1751.5" y1="335.5" x2="1751.5" y2="339" stroke="#333" stroke-width="1.5"/><text text-anchor="middle" fill="#4D4D4D" font-size="24.4" x="1800.3" y="359.4">2</text><line x1="1800.3" y1="335.5" x2="1800.3" y2="339" stroke="#333" stroke-width="1.5"/><text text-anchor="middle" fill="#4D4D4D" font-size="24.4" x="1848.6" y="359.4">3</text><line x1="1848.6" y1="335.5" x2="1848.6" y2="339" stroke="#333" stroke-width="1.5"/><text text-anchor="middle" fill="#4D4D4D" font-size="24.4" x="1896.9" y="359.4">5</text><line x1="1896.9" y1="335.5" x2="1896.9" y2="339" stroke="#333" stroke-width="1.5"/><text text-anchor="middle" fill="#4D4D4D" font-size="24.4" x="1945.2" y="359.4">10</text><line x1="1945.2" y1="335.5" x2="1945.2" y2="339" stroke="#333" stroke-width="1.5"/><text text-anchor="middle" font-size="25.3" x="1763.5" y="397.2">RNA expression Fold-Change Cutoff</text><text text-anchor="middle" font-size="25.2" transform="translate(1457.5 201.5) rotate(-90)">Proportion of Cluster <tspan font-style="italic">x</tspan> Inducible</text><text text-anchor="middle" font-size="25.2" transform="translate(1487.7 201.5) rotate(-90)">Genes with Inducible Promoters</text><polyline points="1606.7,214.3 1654.9,220.5 1703.2,234.1 1751.5,266.3 1800.3,305.9 1848.6,267.6 1896.9,189.8 1945.2,320.9" fill="none" stroke="#DC1648" stroke-width="4" stroke-linejoin="round"/><polyline points="1606.7,207.4 1654.9,206.4 1703.2,241.5 1751.5,239.8 1800.3,253.9 1848.6,291.1 1896.9,226 1945.2,54.6" fill="none" stroke="#2DAA4F" stroke-width="4" stroke-linejoin="round"/><polyline points="1606.7,194.5 1654.9,211.8 1703.2,202.7 1751.5,236.6 1800.3,236.6 1848.6,274.5 1896.9,183.7 1945.2,320.9" fill="none" stroke="#FFDD1A" stroke-width="4" stroke-linejoin="round"/><polyline points="1606.7,182.1 1654.9,195.7 1703.2,249.7 1751.5,258.4 1800.3,258.4 1848.6,266.3 1896.9,320.9 1945.2,320.9" fill="none" stroke="#3F5BA9" stroke-width="4" stroke-linejoin="round"/><polyline points="1606.7,180.9 1654.9,165.5 1703.2,200.7 1751.5,221.7 1800.3,262.6 1848.6,289.8 1896.9,250 1945.2,158.8" fill="none" stroke="#F0873A" stroke-width="4" stroke-linejoin="round"/><polyline points="1606.7,182.1 1654.9,195.7 1703.2,208.1 1751.5,209.4 1800.3,275 1848.6,279.9 1896.9,320.9 1945.2,320.9" fill="none" stroke="#7A3E9D" stroke-width="4" stroke-linejoin="round"/><polyline points="1606.7,178.4 1654.9,192 1703.2,206.9 1751.5,221.7 1800.3,253.9 1848.6,294.8 1896.9,254.7 1945.2,167.1" fill="none" stroke="#6EC4D8" stroke-width="4" stroke-linejoin="round"/><polyline points="1606.7,149.2 1654.9,143.7 1703.2,161.1 1751.5,172.2 1800.3,168.5 1848.6,166.5 1896.9,320.9 1945.2,320.9" fill="none" stroke="#B54FA8" stroke-width="4" stroke-linejoin="round"/><polyline points="1606.7,119.7 1654.9,101.1 1703.2,130.6 1751.5,145.7 1800.3,172.2 1848.6,222.5 1896.9,181.5 1945.2,320.9" fill="none" stroke="#B5D334" stroke-width="4" stroke-linejoin="round"/><polyline points="1606.7,153.1 1654.9,149.2 1703.2,166.5 1751.5,198.7 1800.3,230.9 1848.6,221.7 1896.9,245.7 1945.2,320.9" fill="none" stroke="#F8BBC3" stroke-width="4" stroke-linejoin="round"/><polyline points="1606.7,32.8 1654.9,29.3 1703.2,70.7 1751.5,96.7 1800.3,96.7 1848.6,88 1896.9,161 1945.2,320.9" fill="none" stroke="#127B7B" stroke-width="4" stroke-linejoin="round"/><polyline points="1606.7,130.6 1654.9,132.6 1703.2,179.6 1751.5,188.3 1800.3,203.2 1848.6,234.9 1896.9,169.4 1945.2,148.2" fill="none" stroke="#D9BFDF" stroke-width="4" stroke-linejoin="round"/><polyline points="1606.7,136.3 1654.9,171.5 1703.2,173.4 1751.5,198.2 1800.3,194.5 1848.6,181.4 1896.9,320.9 1945.2,320.9" fill="none" stroke="#A0693A" stroke-width="4" stroke-linejoin="round"/><polyline points="1606.7,126.4 1654.9,140 1703.2,133.8 1751.5,140 1800.3,234.1 1848.6,274.5 1896.9,217 1945.2,320.9" fill="none" stroke="#FFFFB3" stroke-width="4" stroke-linejoin="round"/><polyline points="1606.7,320.9 1654.9,320.9 1703.2,320.9 1751.5,320.9 1800.3,320.9 1848.6,320.9 1896.9,320.9" fill="none" stroke="#7B1416" stroke-width="4" stroke-linejoin="round"/><text font-size="24.4" x="2019" y="28.5">cluster</text><line x1="2021" y1="51.7" x2="2035.2" y2="51.7" stroke="#DC1648" stroke-width="4"/><text font-size="24.4" x="2043.4" y="60.5">0</text><line x1="2021" y1="74.63" x2="2035.2" y2="74.63" stroke="#2DAA4F" stroke-width="4"/><text font-size="24.4" x="2043.4" y="83.43">1</text><line x1="2021" y1="97.56" x2="2035.2" y2="97.56" stroke="#FFDD1A" stroke-width="4"/><text font-size="24.4" x="2043.4" y="106.36">2</text><line x1="2021" y1="120.49" x2="2035.2" y2="120.49" stroke="#3F5BA9" stroke-width="4"/><text font-size="24.4" x="2043.4" y="129.29">3</text><line x1="2021" y1="143.42" x2="2035.2" y2="143.42" stroke="#F0873A" stroke-width="4"/><text font-size="24.4" x="2043.4" y="152.22">4</text><line x1="2021" y1="166.35" x2="2035.2" y2="166.35" stroke="#7A3E9D" stroke-width="4"/><text font-size="24.4" x="2043.4" y="175.15">5</text><line x1="2021" y1="189.28" x2="2035.2" y2="189.28" stroke="#6EC4D8" stroke-width="4"/><text font-size="24.4" x="2043.4" y="198.08">6</text><line x1="2021" y1="212.21" x2="2035.2" y2="212.21" stroke="#B54FA8" stroke-width="4"/><text font-size="24.4" x="2043.4" y="221.01">7</text><line x1="2021" y1="235.14" x2="2035.2" y2="235.14" stroke="#B5D334" stroke-width="4"/><text font-size="24.4" x="2043.4" y="243.94">8</text><line x1="2021" y1="258.07" x2="2035.2" y2="258.07" stroke="#F8BBC3" stroke-width="4"/><text font-size="24.4" x="2043.4" y="266.87">9</text><line x1="2021" y1="281" x2="2035.2" y2="281" stroke="#127B7B" stroke-width="4"/><text font-size="24.4" x="2043.4" y="289.8">10</text><line x1="2021" y1="303.93" x2="2035.2" y2="303.93" stroke="#D9BFDF" stroke-width="4"/><text font-size="24.4" x="2043.4" y="312.73">11</text><line x1="2021" y1="326.86" x2="2035.2" y2="326.86" stroke="#A0693A" stroke-width="4"/><text font-size="24.4" x="2043.4" y="335.66">12</text><line x1="2021" y1="349.79" x2="2035.2" y2="349.79" stroke="#FFFFB3" stroke-width="4"/><text font-size="24.4" x="2043.4" y="358.59">13</text><line x1="2021" y1="372.72" x2="2035.2" y2="372.72" stroke="#7B1416" stroke-width="4"/><text font-size="24.4" x="2043.4" y="381.52">14</text><text font-weight="bold" font-size="37" x="1348" y="489.5">h</text><rect x="1419.8" y="477.1" width="40.7" height="13.4" fill="#8CB5AF" stroke="#000" stroke-width="1.6"/><text font-weight="bold" x="1477" y="489.5">PGC SCZ GWAS</text><rect x="1698.3" y="477.1" width="40.9" height="13.4" fill="#4C73BA" stroke="#000" stroke-width="1.6"/><text font-weight="bold" x="1755.8" y="489.5">Pardinas, et al. SCZ GWAS</text><text text-anchor="middle" font-weight="bold" font-size="17" transform="translate(1359.8 614.5) rotate(-90)">Heritability Enrichment</text><text text-anchor="middle" font-weight="bold" font-size="17" transform="translate(1352.3 840) rotate(-90)">Multitest corrected</text><text text-anchor="middle" font-weight="bold" font-size="17" transform="translate(1372.3 840) rotate(-90)">-log10 P-value</text><rect x="1418.8" y="558.8" width="12.9" height="142.5" fill="#8CB5AF" stroke="#000" stroke-width="1.6"/><line x1="1424.3" y1="542.5" x2="1424.3" y2="573" stroke="#000" stroke-width="3.5"/><rect x="1432.8" y="575.1" width="12.7" height="126.2" fill="#4C73BA" stroke="#000" stroke-width="1.6"/><line x1="1439.3" y1="560" x2="1439.3" y2="588.3" stroke="#000" stroke-width="3.5"/><line x1="1432.55" y1="559" x2="1432.55" y2="701.3" stroke="#000" stroke-width="2.6"/><rect x="1465.8" y="657.8" width="12.4" height="43.5" fill="#8CB5AF" stroke="#000" stroke-width="1.6"/><line x1="1471.3" y1="649.3" x2="1471.3" y2="665" stroke="#000" stroke-width="3.5"/><rect x="1479.3" y="656.3" width="12.9" height="45" fill="#4C73BA" stroke="#000" stroke-width="1.6"/><line x1="1486.8" y1="648.8" x2="1486.8" y2="662" stroke="#000" stroke-width="3.5"/><line x1="1479.05" y1="656.5" x2="1479.05" y2="701.3" stroke="#000" stroke-width="2.6"/><line x1="1413.8" y1="702.5" x2="1512" y2="702.5" stroke="#555555" stroke-width="4"/><line x1="1415.8" y1="537" x2="1415.8" y2="704.3" stroke="#555555" stroke-width="3.5"/><line x1="1412.3" y1="538" x2="1415.8" y2="538" stroke="#555555" stroke-width="2.5"/><line x1="1412.3" y1="578.8" x2="1415.8" y2="578.8" stroke="#555555" stroke-width="2.5"/><line x1="1412.3" y1="620" x2="1415.8" y2="620" stroke="#555555" stroke-width="2.5"/><line x1="1412.3" y1="660.8" x2="1415.8" y2="660.8" stroke="#555555" stroke-width="2.5"/><line x1="1412.8" y1="558.4" x2="1415.8" y2="558.4" stroke="#555555" stroke-width="2"/><line x1="1412.8" y1="599.4" x2="1415.8" y2="599.4" stroke="#555555" stroke-width="2"/><line x1="1412.8" y1="640.4" x2="1415.8" y2="640.4" stroke="#555555" stroke-width="2"/><line x1="1412.8" y1="681.3" x2="1415.8" y2="681.3" stroke="#555555" stroke-width="2"/><text text-anchor="end" x="1407" y="545.88">20</text><text text-anchor="end" x="1407" y="586.67">15</text><text text-anchor="end" x="1407" y="627.88">10</text><text text-anchor="end" x="1407" y="668.67">5</text><text text-anchor="end" x="1407" y="709.67">0</text><rect x="1561.3" y="574.6" width="13.9" height="126.7" fill="#8CB5AF" stroke="#000" stroke-width="1.6"/><line x1="1567.5" y1="554.5" x2="1567.5" y2="593" stroke="#000" stroke-width="3.5"/><rect x="1576.3" y="590.1" width="14.9" height="111.2" fill="#4C73BA" stroke="#000" stroke-width="1.6"/><line x1="1584.5" y1="571.8" x2="1584.5" y2="607" stroke="#000" stroke-width="3.5"/><line x1="1576.05" y1="574.8" x2="1576.05" y2="701.3" stroke="#000" stroke-width="2.6"/><rect x="1610.8" y="573.8" width="14.4" height="127.5" fill="#8CB5AF" stroke="#000" stroke-width="1.6"/><line x1="1617.5" y1="554" x2="1617.5" y2="591.8" stroke="#000" stroke-width="3.5"/><rect x="1626.3" y="586.6" width="14.7" height="114.7" fill="#4C73BA" stroke="#000" stroke-width="1.6"/><line x1="1634.5" y1="569" x2="1634.5" y2="603" stroke="#000" stroke-width="3.5"/><line x1="1626.05" y1="574" x2="1626.05" y2="701.3" stroke="#000" stroke-width="2.6"/><line x1="1556.3" y1="702.5" x2="1660.5" y2="702.5" stroke="#555555" stroke-width="4"/><line x1="1558.3" y1="521.3" x2="1558.3" y2="704.3" stroke="#555555" stroke-width="3.5"/><line x1="1554.8" y1="523" x2="1558.3" y2="523" stroke="#555555" stroke-width="2.5"/><line x1="1554.8" y1="559.3" x2="1558.3" y2="559.3" stroke="#555555" stroke-width="2.5"/><line x1="1554.8" y1="595" x2="1558.3" y2="595" stroke="#555555" stroke-width="2.5"/><line x1="1554.8" y1="630.8" x2="1558.3" y2="630.8" stroke="#555555" stroke-width="2.5"/><line x1="1554.8" y1="666.8" x2="1558.3" y2="666.8" stroke="#555555" stroke-width="2.5"/><line x1="1555.3" y1="541.15" x2="1558.3" y2="541.15" stroke="#555555" stroke-width="2"/><line x1="1555.3" y1="577.15" x2="1558.3" y2="577.15" stroke="#555555" stroke-width="2"/><line x1="1555.3" y1="612.9" x2="1558.3" y2="612.9" stroke="#555555" stroke-width="2"/><line x1="1555.3" y1="648.8" x2="1558.3" y2="648.8" stroke="#555555" stroke-width="2"/><line x1="1555.3" y1="684.4" x2="1558.3" y2="684.4" stroke="#555555" stroke-width="2"/><text text-anchor="end" x="1549.5" y="530.88">25</text><text text-anchor="end" x="1549.5" y="567.17">20</text><text text-anchor="end" x="1549.5" y="602.88">15</text><text text-anchor="end" x="1549.5" y="638.67">10</text><text text-anchor="end" x="1549.5" y="674.67">5</text><text text-anchor="end" x="1549.5" y="709.88">0</text><rect x="1714.1" y="604.6" width="13.1" height="96.7" fill="#8CB5AF" stroke="#000" stroke-width="1.6"/><clipPath id="h28"><rect x="1714.1" y="604.6" width="13.1" height="96.7"/></clipPath><path d="M1714.1 701.3L1727.2 691.87M1714.1 677.8L1727.2 668.37M1714.1 654.3L1727.2 644.87M1714.1 630.8L1727.2 621.37M1714.1 607.3L1727.2 597.87M1714.1 583.8L1727.2 574.37" stroke="#000" stroke-width="1.2" fill="none" clip-path="url(#h28)"/><line x1="1719.5" y1="558.8" x2="1719.5" y2="649.3" stroke="#000" stroke-width="3.5"/><rect x="1728.3" y="578.3" width="15.4" height="123" fill="#4C73BA" stroke="#000" stroke-width="1.6"/><line x1="1736.8" y1="538.3" x2="1736.8" y2="617" stroke="#000" stroke-width="3.5"/><line x1="1728.05" y1="578.5" x2="1728.05" y2="701.3" stroke="#000" stroke-width="2.6"/><rect x="1763.6" y="614.6" width="13.6" height="86.7" fill="#8CB5AF" stroke="#000" stroke-width="1.6"/><line x1="1770.3" y1="598.8" x2="1770.3" y2="628" stroke="#000" stroke-width="3.5"/><rect x="1778.3" y="618.8" width="14.9" height="82.5" fill="#4C73BA" stroke="#000" stroke-width="1.6"/><line x1="1786.5" y1="607" x2="1786.5" y2="630" stroke="#000" stroke-width="3.5"/><line x1="1778.05" y1="614.8" x2="1778.05" y2="701.3" stroke="#000" stroke-width="2.6"/><line x1="1710" y1="702.5" x2="1809" y2="702.5" stroke="#555555" stroke-width="4"/><line x1="1712" y1="520" x2="1712" y2="704.3" stroke="#555555" stroke-width="3.5"/><line x1="1708.5" y1="546.8" x2="1712" y2="546.8" stroke="#555555" stroke-width="2.5"/><line x1="1708.5" y1="598.3" x2="1712" y2="598.3" stroke="#555555" stroke-width="2.5"/><line x1="1708.5" y1="650.5" x2="1712" y2="650.5" stroke="#555555" stroke-width="2.5"/><line x1="1709" y1="572.55" x2="1712" y2="572.55" stroke="#555555" stroke-width="2"/><line x1="1709" y1="624.4" x2="1712" y2="624.4" stroke="#555555" stroke-width="2"/><line x1="1709" y1="676.25" x2="1712" y2="676.25" stroke="#555555" stroke-width="2"/><text text-anchor="end" x="1703.5" y="554.67">12</text><text text-anchor="end" x="1703.5" y="606.17">8</text><text text-anchor="end" x="1703.5" y="658.38">4</text><text text-anchor="end" x="1703.5" y="709.88">0</text><rect x="1864.8" y="581.3" width="13.9" height="120" fill="#8CB5AF" stroke="#000" stroke-width="1.6"/><line x1="1871.3" y1="548" x2="1871.3" y2="612.5" stroke="#000" stroke-width="3.5"/><rect x="1879.8" y="582.6" width="13.4" height="118.7" fill="#4C73BA" stroke="#000" stroke-width="1.6"/><line x1="1886.5" y1="550.8" x2="1886.5" y2="612.5" stroke="#000" stroke-width="3.5"/><line x1="1879.55" y1="581.5" x2="1879.55" y2="701.3" stroke="#000" stroke-width="2.6"/><rect x="1916.1" y="619.6" width="13.1" height="81.7" fill="#8CB5AF" stroke="#000" stroke-width="1.6"/><line x1="1922" y1="591.8" x2="1922" y2="645.5" stroke="#000" stroke-width="3.5"/><rect x="1930.3" y="616.3" width="13.9" height="85" fill="#4C73BA" stroke="#000" stroke-width="1.6"/><line x1="1937.8" y1="591.3" x2="1937.8" y2="640" stroke="#000" stroke-width="3.5"/><line x1="1930.05" y1="616.5" x2="1930.05" y2="701.3" stroke="#000" stroke-width="2.6"/><line x1="1860" y1="702.5" x2="1964.5" y2="702.5" stroke="#555555" stroke-width="4"/><line x1="1862" y1="535" x2="1862" y2="704.3" stroke="#555555" stroke-width="3.5"/><line x1="1858.5" y1="560.5" x2="1862" y2="560.5" stroke="#555555" stroke-width="2.5"/><line x1="1858.5" y1="606.3" x2="1862" y2="606.3" stroke="#555555" stroke-width="2.5"/><line x1="1858.5" y1="653.8" x2="1862" y2="653.8" stroke="#555555" stroke-width="2.5"/><line x1="1859" y1="583.4" x2="1862" y2="583.4" stroke="#555555" stroke-width="2"/><line x1="1859" y1="630.05" x2="1862" y2="630.05" stroke="#555555" stroke-width="2"/><line x1="1859" y1="677.55" x2="1862" y2="677.55" stroke="#555555" stroke-width="2"/><text text-anchor="end" x="1853.3" y="568.38">30</text><text text-anchor="end" x="1853.3" y="614.17">20</text><text text-anchor="end" x="1853.3" y="661.67">10</text><text text-anchor="end" x="1853.3" y="709.17">0</text><rect x="2010.8" y="592.6" width="13.6" height="108.7" fill="#8CB5AF" stroke="#000" stroke-width="1.6"/><clipPath id="h29"><rect x="2010.8" y="592.6" width="13.6" height="108.7"/></clipPath><path d="M2010.8 701.3L2024.4 691.51M2010.8 677.8L2024.4 668.01M2010.8 654.3L2024.4 644.51M2010.8 630.8L2024.4 621.01M2010.8 607.3L2024.4 597.51M2010.8 583.8L2024.4 574.01M2010.8 560.3L2024.4 550.51" stroke="#000" stroke-width="1.2" fill="none" clip-path="url(#h29)"/><line x1="2017" y1="540" x2="2017" y2="643.8" stroke="#000" stroke-width="3.5"/><rect x="2025.5" y="592.6" width="15.2" height="108.7" fill="#4C73BA" stroke="#000" stroke-width="1.6"/><clipPath id="h30"><rect x="2025.5" y="592.6" width="15.2" height="108.7"/></clipPath><path d="M2025.5 701.3L2040.7 690.36M2025.5 677.8L2040.7 666.86M2025.5 654.3L2040.7 643.36M2025.5 630.8L2040.7 619.86M2025.5 607.3L2040.7 596.36M2025.5 583.8L2040.7 572.86M2025.5 560.3L2040.7 549.36" stroke="#000" stroke-width="1.2" fill="none" clip-path="url(#h30)"/><line x1="2033.3" y1="542" x2="2033.3" y2="640.5" stroke="#000" stroke-width="3.5"/><line x1="2025.25" y1="592.8" x2="2025.25" y2="701.3" stroke="#000" stroke-width="2.6"/><rect x="2061.6" y="643.3" width="14.1" height="58" fill="#8CB5AF" stroke="#000" stroke-width="1.6"/><line x1="2067.8" y1="629.3" x2="2067.8" y2="656.3" stroke="#000" stroke-width="3.5"/><rect x="2076.8" y="647.6" width="14.4" height="53.7" fill="#4C73BA" stroke="#000" stroke-width="1.6"/><line x1="2084.5" y1="635" x2="2084.5" y2="658.8" stroke="#000" stroke-width="3.5"/><line x1="2076.55" y1="643.5" x2="2076.55" y2="701.3" stroke="#000" stroke-width="2.6"/><line x1="2005.8" y1="702.5" x2="2111" y2="702.5" stroke="#555555" stroke-width="4"/><line x1="2007.8" y1="522.5" x2="2007.8" y2="704.3" stroke="#555555" stroke-width="3.5"/><line x1="2004.3" y1="524.5" x2="2007.8" y2="524.5" stroke="#555555" stroke-width="2.5"/><line x1="2004.3" y1="569.3" x2="2007.8" y2="569.3" stroke="#555555" stroke-width="2.5"/><line x1="2004.3" y1="613" x2="2007.8" y2="613" stroke="#555555" stroke-width="2.5"/><line x1="2004.3" y1="657.5" x2="2007.8" y2="657.5" stroke="#555555" stroke-width="2.5"/><line x1="2004.8" y1="546.9" x2="2007.8" y2="546.9" stroke="#555555" stroke-width="2"/><line x1="2004.8" y1="591.15" x2="2007.8" y2="591.15" stroke="#555555" stroke-width="2"/><line x1="2004.8" y1="635.25" x2="2007.8" y2="635.25" stroke="#555555" stroke-width="2"/><line x1="2004.8" y1="679.4" x2="2007.8" y2="679.4" stroke="#555555" stroke-width="2"/><text text-anchor="end" x="2000.3" y="532.38">40</text><text text-anchor="end" x="2000.3" y="577.17">30</text><text text-anchor="end" x="2000.3" y="620.88">20</text><text text-anchor="end" x="2000.3" y="665.38">10</text><text text-anchor="end" x="2000.3" y="709.17">0</text><rect x="1418.8" y="772.8" width="12.9" height="143.2" fill="#8CB5AF" stroke="#000" stroke-width="1.6"/><rect x="1432.8" y="782.8" width="12.7" height="133.2" fill="#4C73BA" stroke="#000" stroke-width="1.6"/><line x1="1432.55" y1="773" x2="1432.55" y2="916" stroke="#000" stroke-width="2.6"/><rect x="1465.8" y="882.6" width="12.4" height="33.4" fill="#8CB5AF" stroke="#000" stroke-width="1.6"/><rect x="1479.3" y="858.3" width="12.9" height="57.7" fill="#4C73BA" stroke="#000" stroke-width="1.6"/><line x1="1479.05" y1="858.5" x2="1479.05" y2="916" stroke="#000" stroke-width="2.6"/><line x1="1413.8" y1="917.2" x2="1512" y2="917.2" stroke="#555555" stroke-width="4"/><line x1="1415.8" y1="751.3" x2="1415.8" y2="919" stroke="#555555" stroke-width="3.5"/><line x1="1412.3" y1="752.5" x2="1415.8" y2="752.5" stroke="#555555" stroke-width="2.5"/><line x1="1412.3" y1="793.8" x2="1415.8" y2="793.8" stroke="#555555" stroke-width="2.5"/><line x1="1412.3" y1="835" x2="1415.8" y2="835" stroke="#555555" stroke-width="2.5"/><line x1="1412.3" y1="875.5" x2="1415.8" y2="875.5" stroke="#555555" stroke-width="2.5"/><line x1="1412.8" y1="773.15" x2="1415.8" y2="773.15" stroke="#555555" stroke-width="2"/><line x1="1412.8" y1="814.4" x2="1415.8" y2="814.4" stroke="#555555" stroke-width="2"/><line x1="1412.8" y1="855.25" x2="1415.8" y2="855.25" stroke="#555555" stroke-width="2"/><line x1="1412.8" y1="895.9" x2="1415.8" y2="895.9" stroke="#555555" stroke-width="2"/><text text-anchor="end" x="1407" y="760.38">16</text><text text-anchor="end" x="1407" y="801.67">12</text><text text-anchor="end" x="1407" y="842.88">8</text><text text-anchor="end" x="1407" y="883.38">4</text><text text-anchor="end" x="1407" y="924.17">0</text><line x1="1417.8" y1="902.5" x2="1512" y2="902.5" stroke="#000" stroke-width="3.5" stroke-dasharray="7.5 5.5"/><rect x="1561.3" y="763.3" width="13.9" height="152.7" fill="#8CB5AF" stroke="#000" stroke-width="1.6"/><rect x="1576.3" y="765.8" width="14.9" height="150.2" fill="#4C73BA" stroke="#000" stroke-width="1.6"/><line x1="1576.05" y1="763.5" x2="1576.05" y2="916" stroke="#000" stroke-width="2.6"/><rect x="1610.8" y="754.1" width="14.4" height="161.9" fill="#8CB5AF" stroke="#000" stroke-width="1.6"/><rect x="1626.3" y="754.1" width="14.7" height="161.9" fill="#4C73BA" stroke="#000" stroke-width="1.6"/><line x1="1626.05" y1="754.3" x2="1626.05" y2="916" stroke="#000" stroke-width="2.6"/><line x1="1556.3" y1="917.2" x2="1660.5" y2="917.2" stroke="#555555" stroke-width="4"/><line x1="1558.3" y1="736.3" x2="1558.3" y2="919" stroke="#555555" stroke-width="3.5"/><line x1="1554.8" y1="757" x2="1558.3" y2="757" stroke="#555555" stroke-width="2.5"/><line x1="1554.8" y1="796.3" x2="1558.3" y2="796.3" stroke="#555555" stroke-width="2.5"/><line x1="1554.8" y1="835.5" x2="1558.3" y2="835.5" stroke="#555555" stroke-width="2.5"/><line x1="1554.8" y1="877" x2="1558.3" y2="877" stroke="#555555" stroke-width="2.5"/><line x1="1555.3" y1="776.65" x2="1558.3" y2="776.65" stroke="#555555" stroke-width="2"/><line x1="1555.3" y1="815.9" x2="1558.3" y2="815.9" stroke="#555555" stroke-width="2"/><line x1="1555.3" y1="856.25" x2="1558.3" y2="856.25" stroke="#555555" stroke-width="2"/><line x1="1555.3" y1="896.65" x2="1558.3" y2="896.65" stroke="#555555" stroke-width="2"/><text text-anchor="end" x="1542" y="764.88">8</text><text text-anchor="end" x="1542" y="804.17">6</text><text text-anchor="end" x="1542" y="843.38">4</text><text text-anchor="end" x="1542" y="884.88">2</text><text text-anchor="end" x="1542" y="924.17">0</text><line x1="1560.3" y1="891.3" x2="1658.8" y2="891.3" stroke="#000" stroke-width="3.5" stroke-dasharray="7.5 5.5"/><rect x="1713.3" y="903.8" width="14.7" height="12.2" fill="#8CB5AF"/><rect x="1728.3" y="877.6" width="15.4" height="38.4" fill="#4C73BA" stroke="#000" stroke-width="1.6"/><rect x="1763.6" y="784.1" width="13.6" height="131.9" fill="#8CB5AF" stroke="#000" stroke-width="1.6"/><rect x="1778.3" y="747.1" width="14.9" height="168.9" fill="#4C73BA" stroke="#000" stroke-width="1.6"/><line x1="1778.05" y1="747.3" x2="1778.05" y2="916" stroke="#000" stroke-width="2.6"/><line x1="1710" y1="917.2" x2="1809" y2="917.2" stroke="#555555" stroke-width="4"/><line x1="1712" y1="735" x2="1712" y2="919" stroke="#555555" stroke-width="3.5"/><line x1="1708.5" y1="761.3" x2="1712" y2="761.3" stroke="#555555" stroke-width="2.5"/><line x1="1708.5" y1="811.3" x2="1712" y2="811.3" stroke="#555555" stroke-width="2.5"/><line x1="1708.5" y1="865" x2="1712" y2="865" stroke="#555555" stroke-width="2.5"/><line x1="1709" y1="786.3" x2="1712" y2="786.3" stroke="#555555" stroke-width="2"/><line x1="1709" y1="838.15" x2="1712" y2="838.15" stroke="#555555" stroke-width="2"/><line x1="1709" y1="890.65" x2="1712" y2="890.65" stroke="#555555" stroke-width="2"/><text text-anchor="end" x="1698" y="769.17">6</text><text text-anchor="end" x="1698" y="819.17">4</text><text text-anchor="end" x="1698" y="872.88">2</text><text text-anchor="end" x="1698" y="924.17">0</text><line x1="1714" y1="884.3" x2="1808" y2="884.3" stroke="#000" stroke-width="3.5" stroke-dasharray="7.5 5.5"/><rect x="1864.8" y="766.6" width="13.9" height="149.2" fill="#8CB5AF" stroke="#000" stroke-width="1.6"/><rect x="1879.8" y="759.1" width="13.4" height="156.7" fill="#4C73BA" stroke="#000" stroke-width="1.6"/><line x1="1879.55" y1="759.3" x2="1879.55" y2="915.8" stroke="#000" stroke-width="2.6"/><rect x="1916.1" y="827.8" width="13.1" height="88" fill="#8CB5AF" stroke="#000" stroke-width="1.6"/><rect x="1930.3" y="802.1" width="13.9" height="113.7" fill="#4C73BA" stroke="#000" stroke-width="1.6"/><line x1="1930.05" y1="802.3" x2="1930.05" y2="915.8" stroke="#000" stroke-width="2.6"/><line x1="1860" y1="917" x2="1964.5" y2="917" stroke="#555555" stroke-width="4"/><line x1="1862" y1="747.5" x2="1862" y2="918.8" stroke="#555555" stroke-width="3.5"/><line x1="1858.5" y1="749.3" x2="1862" y2="749.3" stroke="#555555" stroke-width="2.5"/><line x1="1858.5" y1="805" x2="1862" y2="805" stroke="#555555" stroke-width="2.5"/><line x1="1858.5" y1="860" x2="1862" y2="860" stroke="#555555" stroke-width="2.5"/><line x1="1859" y1="777.15" x2="1862" y2="777.15" stroke="#555555" stroke-width="2"/><line x1="1859" y1="832.5" x2="1862" y2="832.5" stroke="#555555" stroke-width="2"/><line x1="1859" y1="887.9" x2="1862" y2="887.9" stroke="#555555" stroke-width="2"/><text text-anchor="end" x="1850" y="757.17">3</text><text text-anchor="end" x="1850" y="812.88">2</text><text text-anchor="end" x="1850" y="867.88">1</text><text text-anchor="end" x="1850" y="923.67">0</text><line x1="1864" y1="843.8" x2="1963.3" y2="843.8" stroke="#000" stroke-width="3.5" stroke-dasharray="7.5 5.5"/><rect x="2010.8" y="880.3" width="13.6" height="33.7" fill="#8CB5AF" stroke="#000" stroke-width="1.6"/><rect x="2025.5" y="878.8" width="15.2" height="35.2" fill="#4C73BA" stroke="#000" stroke-width="1.6"/><line x1="2025.25" y1="879" x2="2025.25" y2="914" stroke="#000" stroke-width="2.6"/><rect x="2061.6" y="760.1" width="14.1" height="153.9" fill="#8CB5AF" stroke="#000" stroke-width="1.6"/><rect x="2076.8" y="741.6" width="14.4" height="172.4" fill="#4C73BA" stroke="#000" stroke-width="1.6"/><line x1="2076.55" y1="741.8" x2="2076.55" y2="914" stroke="#000" stroke-width="2.6"/><line x1="2005.8" y1="915.2" x2="2111" y2="915.2" stroke="#555555" stroke-width="4"/><line x1="2007.8" y1="735.5" x2="2007.8" y2="917" stroke="#555555" stroke-width="3.5"/><line x1="2004.3" y1="762.5" x2="2007.8" y2="762.5" stroke="#555555" stroke-width="2.5"/><line x1="2004.3" y1="814.5" x2="2007.8" y2="814.5" stroke="#555555" stroke-width="2.5"/><line x1="2004.3" y1="864.3" x2="2007.8" y2="864.3" stroke="#555555" stroke-width="2.5"/><line x1="2004.8" y1="788.5" x2="2007.8" y2="788.5" stroke="#555555" stroke-width="2"/><line x1="2004.8" y1="839.4" x2="2007.8" y2="839.4" stroke="#555555" stroke-width="2"/><line x1="2004.8" y1="889.4" x2="2007.8" y2="889.4" stroke="#555555" stroke-width="2"/><text text-anchor="end" x="1997.8" y="770.38">3</text><text text-anchor="end" x="1997.8" y="822.38">2</text><text text-anchor="end" x="1997.8" y="872.17">1</text><text text-anchor="end" x="1997.8" y="922.38">0</text><line x1="2009.8" y1="848.3" x2="2111" y2="848.3" stroke="#000" stroke-width="3.5" stroke-dasharray="7.5 5.5"/><text text-anchor="end" transform="translate(1440 925) rotate(-90)">4G promoter regions</text><text text-anchor="end" transform="translate(1486.8 925) rotate(-90)">4G enhancer regions</text><text text-anchor="end" transform="translate(1585.5 925) rotate(-90)">4G inducible promoter regions</text><text text-anchor="end" transform="translate(1635.5 925) rotate(-90)">4G constitutive promoter regions</text><text text-anchor="end" transform="translate(1736.8 925) rotate(-90)">4G inducible enhancer regions</text><text text-anchor="end" transform="translate(1787.7 925) rotate(-90)">4G constitutive enhancer regions</text><text text-anchor="end" transform="translate(1887.7 925) rotate(-90)">500bp 4G inducible promoters</text><text text-anchor="end" transform="translate(1941 925) rotate(-90)">500bp 4G constitutive promoters</text><text text-anchor="end" transform="translate(2033.2 925) rotate(-90)">500bp 4G inducible enhancers</text><text text-anchor="end" transform="translate(2085.5 925) rotate(-90)">500bp 4G constitutive enhancers</text><text font-weight="bold" font-size="37" x="1359.5" y="1380">i</text><rect x="1415.8" y="1355.8" width="31.6" height="11.2" fill="#B389C6" stroke="#000" stroke-width="1.6"/><text x="1457.3" y="1368.6">4G H3K27ac promoter regions</text><rect x="1415.8" y="1389" width="31.6" height="11.6" fill="#FBDD8E" stroke="#000" stroke-width="1.6"/><text x="1457.3" y="1400.5">4G H3K27ac enhancer regions</text><rect x="1463.4" y="1566" width="13" height="87.5" fill="#B389C6" stroke="#000" stroke-width="2"/><line x1="1469.9" y1="1556" x2="1469.9" y2="1573.2" stroke="#000" stroke-width="3.2"/><rect x="1476.9" y="1627.8" width="14" height="25.7" fill="#FBDD8E" stroke="#000" stroke-width="2"/><line x1="1484.1" y1="1622.3" x2="1484.1" y2="1631.4" stroke="#000" stroke-width="3.2"/><rect x="1499.7" y="1553.7" width="13" height="99.8" fill="#B389C6" stroke="#000" stroke-width="2"/><line x1="1506.2" y1="1537.7" x2="1506.2" y2="1566.4" stroke="#000" stroke-width="3.2"/><rect x="1513.2" y="1616.5" width="14" height="37" fill="#FBDD8E" stroke="#000" stroke-width="2"/><line x1="1520.4" y1="1609.5" x2="1520.4" y2="1621" stroke="#000" stroke-width="3.2"/><rect x="1536.1" y="1591" width="13" height="62.5" fill="#B389C6" stroke="#000" stroke-width="2"/><line x1="1542.6" y1="1574" x2="1542.6" y2="1606" stroke="#000" stroke-width="3.2"/><rect x="1549.6" y="1601.5" width="14" height="52" fill="#FBDD8E" stroke="#000" stroke-width="2"/><line x1="1556.8" y1="1592.7" x2="1556.8" y2="1607.3" stroke="#000" stroke-width="3.2"/><rect x="1572.5" y="1572.8" width="13" height="80.7" fill="#B389C6" stroke="#000" stroke-width="2"/><line x1="1579" y1="1550.5" x2="1579" y2="1593.6" stroke="#000" stroke-width="3.2"/><rect x="1586" y="1630" width="14" height="23.5" fill="#FBDD8E" stroke="#000" stroke-width="2"/><clipPath id="h31"><rect x="1586" y="1630" width="14" height="23.5"/></clipPath><path d="M1586 1651.5L1600 1641.42M1586 1628L1600 1617.92M1586 1604.5L1600 1594.42" stroke="#000" stroke-width="1.2" fill="none" clip-path="url(#h31)"/><line x1="1593.2" y1="1620" x2="1593.2" y2="1637.7" stroke="#000" stroke-width="3.2"/><rect x="1607.9" y="1501.5" width="13" height="152" fill="#B389C6" stroke="#000" stroke-width="2"/><line x1="1614.4" y1="1443.6" x2="1614.4" y2="1557.3" stroke="#000" stroke-width="3.2"/><rect x="1644.3" y="1597.8" width="13" height="55.7" fill="#B389C6" stroke="#000" stroke-width="2"/><line x1="1650.8" y1="1579" x2="1650.8" y2="1615.5" stroke="#000" stroke-width="3.2"/><rect x="1657.8" y="1611.9" width="14" height="41.6" fill="#FBDD8E" stroke="#000" stroke-width="2"/><line x1="1665" y1="1603.6" x2="1665" y2="1618.6" stroke="#000" stroke-width="3.2"/><rect x="1745.2" y="1597" width="13" height="56.5" fill="#B389C6" stroke="#000" stroke-width="2"/><line x1="1751.7" y1="1586" x2="1751.7" y2="1606" stroke="#000" stroke-width="3.2"/><rect x="1758.7" y="1641.5" width="14" height="12" fill="#FBDD8E" stroke="#000" stroke-width="2"/><line x1="1765.9" y1="1636.8" x2="1765.9" y2="1643.6" stroke="#000" stroke-width="3.2"/><rect x="1781.5" y="1602.4" width="13" height="51.1" fill="#B389C6" stroke="#000" stroke-width="2"/><line x1="1788" y1="1586.8" x2="1788" y2="1615.5" stroke="#000" stroke-width="3.2"/><rect x="1795" y="1648.3" width="14" height="5.2" fill="#FBDD8E" stroke="#000" stroke-width="2"/><line x1="1802.2" y1="1641.4" x2="1802.2" y2="1651.8" stroke="#000" stroke-width="3.2"/><rect x="1817" y="1610.5" width="13" height="43" fill="#B389C6" stroke="#000" stroke-width="2"/><line x1="1823.5" y1="1594.5" x2="1823.5" y2="1624.5" stroke="#000" stroke-width="3.2"/><rect x="1853.4" y="1615.5" width="13" height="38" fill="#B389C6" stroke="#000" stroke-width="2"/><clipPath id="h32"><rect x="1853.4" y="1615.5" width="13" height="38"/></clipPath><path d="M1853.4 1651.5L1866.4 1642.14M1853.4 1628L1866.4 1618.64M1853.4 1604.5L1866.4 1595.14" stroke="#000" stroke-width="1.2" fill="none" clip-path="url(#h32)"/><line x1="1859.9" y1="1599" x2="1859.9" y2="1630" stroke="#000" stroke-width="3.2"/><rect x="1866.9" y="1638.7" width="14" height="14.8" fill="#FBDD8E" stroke="#000" stroke-width="2"/><clipPath id="h33"><rect x="1866.9" y="1638.7" width="14" height="14.8"/></clipPath><path d="M1866.9 1651.5L1880.9 1641.42M1866.9 1628L1880.9 1617.92" stroke="#000" stroke-width="1.2" fill="none" clip-path="url(#h33)"/><line x1="1874.1" y1="1628.6" x2="1874.1" y2="1647.3" stroke="#000" stroke-width="3.2"/><rect x="1889.3" y="1622" width="13" height="31.5" fill="#B389C6" stroke="#000" stroke-width="2"/><clipPath id="h34"><rect x="1889.3" y="1622" width="13" height="31.5"/></clipPath><path d="M1889.3 1651.5L1902.3 1642.14M1889.3 1628L1902.3 1618.64M1889.3 1604.5L1902.3 1595.14" stroke="#000" stroke-width="1.2" fill="none" clip-path="url(#h34)"/><line x1="1895.8" y1="1606" x2="1895.8" y2="1636" stroke="#000" stroke-width="3.2"/><rect x="1925.6" y="1628.7" width="13" height="24.8" fill="#B389C6" stroke="#000" stroke-width="2"/><clipPath id="h35"><rect x="1925.6" y="1628.7" width="13" height="24.8"/></clipPath><path d="M1925.6 1651.5L1938.6 1642.14M1925.6 1628L1938.6 1618.64M1925.6 1604.5L1938.6 1595.14" stroke="#000" stroke-width="1.2" fill="none" clip-path="url(#h35)"/><line x1="1932.1" y1="1608.6" x2="1932.1" y2="1646.8" stroke="#000" stroke-width="3.2"/><rect x="1962" y="1626.5" width="13" height="27" fill="#B389C6" stroke="#000" stroke-width="2"/><clipPath id="h36"><rect x="1962" y="1626.5" width="13" height="27"/></clipPath><path d="M1962 1651.5L1975 1642.14M1962 1628L1975 1618.64M1962 1604.5L1975 1595.14" stroke="#000" stroke-width="1.2" fill="none" clip-path="url(#h36)"/><line x1="1968.5" y1="1603.6" x2="1968.5" y2="1648.2" stroke="#000" stroke-width="3.2"/><rect x="1975.5" y="1643.7" width="14" height="9.8" fill="#FBDD8E" stroke="#000" stroke-width="2"/><line x1="1982.7" y1="1635.5" x2="1982.7" y2="1650.5" stroke="#000" stroke-width="3.2"/><line x1="1457" y1="1654.8" x2="1992.3" y2="1654.8" stroke="#555555" stroke-width="4.5"/><line x1="1476.4" y1="1656.5" x2="1476.4" y2="1659.5" stroke="#555555" stroke-width="4.5"/><line x1="1512.7" y1="1656.5" x2="1512.7" y2="1659.5" stroke="#555555" stroke-width="4.5"/><line x1="1549.1" y1="1656.5" x2="1549.1" y2="1659.5" stroke="#555555" stroke-width="4.5"/><line x1="1585.5" y1="1656.5" x2="1585.5" y2="1659.5" stroke="#555555" stroke-width="4.5"/><line x1="1620.9" y1="1656.5" x2="1620.9" y2="1659.5" stroke="#555555" stroke-width="4.5"/><line x1="1657.3" y1="1656.5" x2="1657.3" y2="1659.5" stroke="#555555" stroke-width="4.5"/><line x1="1758.2" y1="1656.5" x2="1758.2" y2="1659.5" stroke="#555555" stroke-width="4.5"/><line x1="1794.5" y1="1656.5" x2="1794.5" y2="1659.5" stroke="#555555" stroke-width="4.5"/><line x1="1830" y1="1656.5" x2="1830" y2="1659.5" stroke="#555555" stroke-width="4.5"/><line x1="1866.4" y1="1656.5" x2="1866.4" y2="1659.5" stroke="#555555" stroke-width="4.5"/><line x1="1902.3" y1="1656.5" x2="1902.3" y2="1659.5" stroke="#555555" stroke-width="4.5"/><line x1="1938.6" y1="1656.5" x2="1938.6" y2="1659.5" stroke="#555555" stroke-width="4.5"/><line x1="1975" y1="1656.5" x2="1975" y2="1659.5" stroke="#555555" stroke-width="4.5"/><line x1="1463" y1="1423.2" x2="1463" y2="1657" stroke="#555555" stroke-width="5.5"/><line x1="1457.5" y1="1451.4" x2="1463" y2="1451.4" stroke="#555555" stroke-width="2.8"/><line x1="1457.5" y1="1501.8" x2="1463" y2="1501.8" stroke="#555555" stroke-width="2.8"/><line x1="1457.5" y1="1552.7" x2="1463" y2="1552.7" stroke="#555555" stroke-width="2.8"/><line x1="1457.5" y1="1603.6" x2="1463" y2="1603.6" stroke="#555555" stroke-width="2.8"/><line x1="1457.5" y1="1426" x2="1463" y2="1426" stroke="#555555" stroke-width="2.8"/><line x1="1457.5" y1="1476.6" x2="1463" y2="1476.6" stroke="#555555" stroke-width="2.8"/><line x1="1457.5" y1="1527.2" x2="1463" y2="1527.2" stroke="#555555" stroke-width="2.8"/><line x1="1457.5" y1="1578.1" x2="1463" y2="1578.1" stroke="#555555" stroke-width="2.8"/><line x1="1457.5" y1="1628.8" x2="1463" y2="1628.8" stroke="#555555" stroke-width="2.8"/><text text-anchor="end" x="1449" y="1459.28">40</text><text text-anchor="end" x="1449" y="1509.67">30</text><text text-anchor="end" x="1449" y="1560.58">20</text><text text-anchor="end" x="1449" y="1611.47">10</text><text text-anchor="end" x="1449" y="1661.97">0</text><text text-anchor="middle" transform="translate(1382.5 1540) rotate(-90)">Heritability Enrichment</text><rect x="1463.4" y="1731" width="13" height="199.8" fill="#B389C6" stroke="#000" stroke-width="2"/><rect x="1476.9" y="1885.5" width="14" height="45.3" fill="#FBDD8E" stroke="#000" stroke-width="2"/><rect x="1499.7" y="1816" width="13" height="114.8" fill="#B389C6" stroke="#000" stroke-width="2"/><rect x="1513.2" y="1867.4" width="14" height="63.4" fill="#FBDD8E" stroke="#000" stroke-width="2"/><rect x="1536.1" y="1897.4" width="13" height="33.4" fill="#B389C6" stroke="#000" stroke-width="2"/><rect x="1549.6" y="1815" width="14" height="115.8" fill="#FBDD8E" stroke="#000" stroke-width="2"/><rect x="1572.5" y="1892.8" width="13" height="38" fill="#B389C6" stroke="#000" stroke-width="2"/><rect x="1586" y="1929.6" width="14" height="1.2" fill="#FBDD8E" stroke="#000" stroke-width="2"/><rect x="1607.9" y="1910.5" width="13" height="20.3" fill="#B389C6" stroke="#000" stroke-width="2"/><rect x="1644.3" y="1911.5" width="13" height="19.3" fill="#B389C6" stroke="#000" stroke-width="2"/><rect x="1657.8" y="1875.5" width="14" height="55.3" fill="#FBDD8E" stroke="#000" stroke-width="2"/><rect x="1745.2" y="1863.7" width="13" height="67.1" fill="#B389C6" stroke="#000" stroke-width="2"/><rect x="1758.7" y="1924.2" width="14" height="6.6" fill="#FBDD8E" stroke="#000" stroke-width="2"/><rect x="1781.5" y="1906" width="13" height="24.8" fill="#B389C6" stroke="#000" stroke-width="2"/><rect x="1817" y="1912.8" width="13" height="18" fill="#B389C6" stroke="#000" stroke-width="2"/><rect x="1853.4" y="1920.5" width="13" height="10.3" fill="#B389C6" stroke="#000" stroke-width="2"/><rect x="1889.3" y="1922" width="13" height="8.8" fill="#B389C6" stroke="#000" stroke-width="2"/><rect x="1925.6" y="1930" width="13" height="0.8" fill="#B389C6" stroke="#000" stroke-width="2"/><rect x="1962" y="1930" width="13" height="0.8" fill="#B389C6" stroke="#000" stroke-width="2"/><line x1="1457" y1="1932.1" x2="1992.3" y2="1932.1" stroke="#555555" stroke-width="4.5"/><line x1="1476.4" y1="1933.8" x2="1476.4" y2="1936.8" stroke="#555555" stroke-width="4.5"/><line x1="1512.7" y1="1933.8" x2="1512.7" y2="1936.8" stroke="#555555" stroke-width="4.5"/><line x1="1549.1" y1="1933.8" x2="1549.1" y2="1936.8" stroke="#555555" stroke-width="4.5"/><line x1="1585.5" y1="1933.8" x2="1585.5" y2="1936.8" stroke="#555555" stroke-width="4.5"/><line x1="1620.9" y1="1933.8" x2="1620.9" y2="1936.8" stroke="#555555" stroke-width="4.5"/><line x1="1657.3" y1="1933.8" x2="1657.3" y2="1936.8" stroke="#555555" stroke-width="4.5"/><line x1="1758.2" y1="1933.8" x2="1758.2" y2="1936.8" stroke="#555555" stroke-width="4.5"/><line x1="1794.5" y1="1933.8" x2="1794.5" y2="1936.8" stroke="#555555" stroke-width="4.5"/><line x1="1830" y1="1933.8" x2="1830" y2="1936.8" stroke="#555555" stroke-width="4.5"/><line x1="1866.4" y1="1933.8" x2="1866.4" y2="1936.8" stroke="#555555" stroke-width="4.5"/><line x1="1902.3" y1="1933.8" x2="1902.3" y2="1936.8" stroke="#555555" stroke-width="4.5"/><line x1="1938.6" y1="1933.8" x2="1938.6" y2="1936.8" stroke="#555555" stroke-width="4.5"/><line x1="1975" y1="1933.8" x2="1975" y2="1936.8" stroke="#555555" stroke-width="4.5"/><line x1="1463" y1="1700.5" x2="1463" y2="1934.3" stroke="#555555" stroke-width="5.5"/><line x1="1457.5" y1="1702.7" x2="1463" y2="1702.7" stroke="#555555" stroke-width="2.8"/><line x1="1457.5" y1="1731.3" x2="1463" y2="1731.3" stroke="#555555" stroke-width="2.8"/><line x1="1457.5" y1="1759.9" x2="1463" y2="1759.9" stroke="#555555" stroke-width="2.8"/><line x1="1457.5" y1="1788.5" x2="1463" y2="1788.5" stroke="#555555" stroke-width="2.8"/><line x1="1457.5" y1="1817.1" x2="1463" y2="1817.1" stroke="#555555" stroke-width="2.8"/><line x1="1457.5" y1="1845.7" x2="1463" y2="1845.7" stroke="#555555" stroke-width="2.8"/><line x1="1457.5" y1="1874.3" x2="1463" y2="1874.3" stroke="#555555" stroke-width="2.8"/><line x1="1457.5" y1="1902.9" x2="1463" y2="1902.9" stroke="#555555" stroke-width="2.8"/><text text-anchor="end" x="1449" y="1710.58">16</text><text text-anchor="end" x="1449" y="1768.38">12</text><text text-anchor="end" x="1449" y="1825.17">8</text><text text-anchor="end" x="1449" y="1882.38">4</text><text text-anchor="end" x="1449" y="1939.28">0</text><text text-anchor="middle" transform="translate(1361.2 1832.3) rotate(-90)">Multi-test corrected</text><text text-anchor="middle" transform="translate(1394 1832.3) rotate(-90)">log10(pvalue)</text><line x1="1462" y1="1913.2" x2="1985.5" y2="1913.2" stroke="#000" stroke-width="3" stroke-dasharray="8 6"/><text font-style="italic" x="1916.4" y="1899.5">p = 0.05</text><text text-anchor="end" font-weight="bold" transform="translate(1494.9 1957.5) rotate(-45)">SCZ</text><text text-anchor="end" font-weight="bold" transform="translate(1530.7 1957.5) rotate(-45)">BP</text><text text-anchor="end" font-weight="bold" transform="translate(1564.1 1960.8) rotate(-45)">MDD</text><text text-anchor="end" font-weight="bold" transform="translate(1600.5 1955.8) rotate(-45)">ASD</text><text text-anchor="end" font-weight="bold" fill="#C8392B" transform="translate(1636.9 1955.8) rotate(-45)">AD</text><text text-anchor="end" font-weight="bold" transform="translate(1672.3 1955.8) rotate(-45)">ADHD</text><text text-anchor="end" transform="translate(1773.2 1955.8) rotate(-45)">cardiac disease</text><text text-anchor="end" transform="translate(1809.5 1955.8) rotate(-45)">hypothyroidism</text><text text-anchor="end" transform="translate(1845 1955.8) rotate(-45)">asthma</text><text text-anchor="end" transform="translate(1879.9 1956.8) rotate(-45)">T2 diabetes</text><text text-anchor="end" transform="translate(1913.8 1957.5) rotate(-45)">eczema</text><text text-anchor="end" transform="translate(1953.6 1955.8) rotate(-45)">IBD</text><text text-anchor="end" transform="translate(1993.5 1957.5) rotate(-45)">rh. arthritis</text><line x1="1469.5" y1="2017.3" x2="1631" y2="2017.3" stroke="#222" stroke-width="3"/><text text-anchor="middle" x="1544.5" y="2042.5">neurological</text><text text-anchor="middle" x="1544.5" y="2072.5">disorders</text><text font-weight="bold" font-size="37" x="1236.5" y="2097.5">j</text><rect x="1180.2" y="2131.7" width="29.8" height="12.7" fill="#E4CDE6" stroke="#000" stroke-width="2"/><text x="1224.2" y="2149">4G <tspan font-weight="bold" font-style="italic">constitutive</tspan> promoter regions</text><rect x="1180.2" y="2170" width="29.8" height="12.4" fill="#A54EA5" stroke="#000" stroke-width="2"/><text x="1224.2" y="2184.3">4G <tspan font-weight="bold" font-style="italic">inducible</tspan> promoter regions</text><rect x="1631.9" y="2136.3" width="30.8" height="12.7" fill="#FBDDE4" stroke="#000" stroke-width="2"/><text x="1682" y="2150.6">4G <tspan font-weight="bold" font-style="italic">constitutive</tspan> 500bp promoters</text><rect x="1631.9" y="2174.6" width="30.8" height="13.4" fill="#EF6392" stroke="#000" stroke-width="2"/><text x="1682" y="2188.3">4G <tspan font-weight="bold" font-style="italic">inducible</tspan> 500bp promoters</text><rect x="1329.5" y="2338.6" width="10.8" height="39.4" fill="#E4CDE6" stroke="#000" stroke-width="2"/><line x1="1334.6" y1="2332" x2="1334.6" y2="2343.8" stroke="#000" stroke-width="3.5"/><rect x="1341.8" y="2338.6" width="12.7" height="39.4" fill="#A54EA5" stroke="#000" stroke-width="2"/><line x1="1348" y1="2332" x2="1348" y2="2343.8" stroke="#000" stroke-width="3.5"/><rect x="1366.3" y="2350.3" width="11.7" height="27.7" fill="#E4CDE6" stroke="#000" stroke-width="2"/><line x1="1371.4" y1="2340.7" x2="1371.4" y2="2350" stroke="#000" stroke-width="3.5"/><rect x="1379.5" y="2314.7" width="12.4" height="63.3" fill="#A54EA5" stroke="#000" stroke-width="2"/><line x1="1385.8" y1="2303.9" x2="1385.8" y2="2323.8" stroke="#000" stroke-width="3.5"/><rect x="1403.7" y="2344.8" width="11.7" height="33.2" fill="#E4CDE6" stroke="#000" stroke-width="2"/><line x1="1409" y1="2330.6" x2="1409" y2="2357.6" stroke="#000" stroke-width="3.5"/><rect x="1416.9" y="2338" width="12.7" height="40" fill="#A54EA5" stroke="#000" stroke-width="2"/><line x1="1423.5" y1="2326.3" x2="1423.5" y2="2345.3" stroke="#000" stroke-width="3.5"/><rect x="1441.4" y="2358" width="12.3" height="20" fill="#F4EAF5" stroke="#000" stroke-width="2"/><clipPath id="h37"><rect x="1441.4" y="2358" width="12.3" height="20"/></clipPath><path d="M1441.4 2378L1453.7 2369.14M1441.4 2354.5L1453.7 2345.64M1441.4 2331L1453.7 2322.14" stroke="#000" stroke-width="1.2" fill="none" clip-path="url(#h37)"/><line x1="1447.5" y1="2326.9" x2="1447.5" y2="2378.4" stroke="#000" stroke-width="3.5"/><rect x="1455.2" y="2276.4" width="11.8" height="101.6" fill="#A54EA5" stroke="#000" stroke-width="2"/><line x1="1461" y1="2231" x2="1461" y2="2320" stroke="#000" stroke-width="3.5"/><rect x="1479.1" y="2340.8" width="12.3" height="37.2" fill="#E4CDE6" stroke="#000" stroke-width="2"/><line x1="1484.9" y1="2329.3" x2="1484.9" y2="2350" stroke="#000" stroke-width="3.5"/><rect x="1492.9" y="2357.6" width="12.4" height="20.4" fill="#A54EA5" stroke="#000" stroke-width="2"/><clipPath id="h38"><rect x="1492.9" y="2357.6" width="12.4" height="20.4"/></clipPath><path d="M1492.9 2378L1505.3 2369.07M1492.9 2354.5L1505.3 2345.57M1492.9 2331L1505.3 2322.07" stroke="#000" stroke-width="1.2" fill="none" clip-path="url(#h38)"/><line x1="1498.7" y1="2346.8" x2="1498.7" y2="2366" stroke="#000" stroke-width="3.5"/><rect x="1517.1" y="2342.3" width="12.4" height="35.7" fill="#E4CDE6" stroke="#000" stroke-width="2"/><line x1="1523.2" y1="2329" x2="1523.2" y2="2353.9" stroke="#000" stroke-width="3.5"/><rect x="1531" y="2359.2" width="12" height="18.8" fill="#A54EA5" stroke="#000" stroke-width="2"/><line x1="1536.4" y1="2350" x2="1536.4" y2="2367.4" stroke="#000" stroke-width="3.5"/><line x1="1323.5" y1="2381.5" x2="1544.7" y2="2381.5" stroke="#555555" stroke-width="5"/><line x1="1326" y1="2218" x2="1326" y2="2384" stroke="#555555" stroke-width="5"/><text text-anchor="end" x="1315.6" y="2247.38">60</text><text text-anchor="end" x="1315.6" y="2293.38">40</text><text text-anchor="end" x="1315.6" y="2338.47">20</text><text text-anchor="end" x="1315.6" y="2381.68">0</text><text text-anchor="middle" transform="translate(1195.3 2288.6) rotate(-90)">Heritability</text><text text-anchor="middle" transform="translate(1226 2288.6) rotate(-90)">Enrichment</text><rect x="1329.5" y="2442" width="10.8" height="141.5" fill="#E4CDE6" stroke="#000" stroke-width="2"/><rect x="1341.8" y="2450" width="12.7" height="133.5" fill="#A54EA5" stroke="#000" stroke-width="2"/><rect x="1366.3" y="2551.7" width="11.7" height="31.8" fill="#E4CDE6" stroke="#000" stroke-width="2"/><rect x="1379.5" y="2453" width="12.4" height="130.5" fill="#A54EA5" stroke="#000" stroke-width="2"/><rect x="1403.7" y="2557.8" width="11.7" height="25.7" fill="#E4CDE6" stroke="#000" stroke-width="2"/><rect x="1416.9" y="2537.3" width="12.7" height="46.2" fill="#A54EA5" stroke="#000" stroke-width="2"/><rect x="1441.4" y="2581.8" width="12.3" height="1.7" fill="#E4CDE6" stroke="#000" stroke-width="2"/><rect x="1455.2" y="2561.5" width="11.8" height="22" fill="#A54EA5" stroke="#000" stroke-width="2"/><rect x="1479.1" y="2536.4" width="12.3" height="47.1" fill="#E4CDE6" stroke="#000" stroke-width="2"/><rect x="1492.9" y="2568.6" width="12.4" height="14.9" fill="#A54EA5" stroke="#000" stroke-width="2"/><rect x="1517.1" y="2555.7" width="12.4" height="27.8" fill="#E4CDE6" stroke="#000" stroke-width="2"/><rect x="1531" y="2568.6" width="12" height="14.9" fill="#A54EA5" stroke="#000" stroke-width="2"/><line x1="1323.5" y1="2586" x2="1544.7" y2="2586" stroke="#555555" stroke-width="5"/><line x1="1326" y1="2425" x2="1326" y2="2588.5" stroke="#555555" stroke-width="5"/><text text-anchor="end" x="1315.6" y="2448.18">8</text><text text-anchor="end" x="1315.6" y="2520.28">4</text><text text-anchor="end" x="1315.6" y="2589.38">0</text><text text-anchor="middle" transform="translate(1195.3 2523) rotate(-90)">Multi-test corrected</text><text text-anchor="middle" transform="translate(1226 2523) rotate(-90)">log10(pvalue)</text><line x1="1326" y1="2562.4" x2="1534" y2="2562.4" stroke="#000" stroke-width="3.5" stroke-dasharray="8 6"/><text font-style="italic" x="1507" y="2543.7">p = 0.05</text><text text-anchor="end" font-weight="bold" transform="translate(1356.3 2613.5) rotate(-45)">SCZ</text><text text-anchor="end" font-weight="bold" transform="translate(1394 2613.5) rotate(-45)">BP</text><text text-anchor="end" font-weight="bold" transform="translate(1431.4 2613.5) rotate(-45)">ASD</text><text text-anchor="end" font-weight="bold" fill="#C8392B" transform="translate(1469.7 2613.5) rotate(-45)">AD</text><text text-anchor="end" font-weight="bold" transform="translate(1507.4 2613.5) rotate(-45)">MDD</text><text text-anchor="end" font-weight="bold" transform="translate(1545.5 2613.5) rotate(-45)">ADHD</text><rect x="1676.3" y="2360.1" width="9.9" height="18.4" fill="#FBDDE4" stroke="#000" stroke-width="2"/><line x1="1680.5" y1="2353" x2="1680.5" y2="2365.2" stroke="#000" stroke-width="3.5"/><rect x="1687.7" y="2350.9" width="11.1" height="27.6" fill="#EF6392" stroke="#000" stroke-width="2"/><line x1="1693.1" y1="2342.2" x2="1693.1" y2="2357" stroke="#000" stroke-width="3.5"/><rect x="1712.2" y="2347.2" width="11.7" height="31.3" fill="#FBDDE4" stroke="#000" stroke-width="2"/><clipPath id="h39"><rect x="1712.2" y="2347.2" width="11.7" height="31.3"/></clipPath><path d="M1712.2 2378.5L1723.9 2370.08M1712.2 2355L1723.9 2346.58M1712.2 2331.5L1723.9 2323.08" stroke="#000" stroke-width="1.2" fill="none" clip-path="url(#h39)"/><line x1="1717.6" y1="2334.6" x2="1717.6" y2="2357.6" stroke="#000" stroke-width="3.5"/><rect x="1725.4" y="2361" width="10.9" height="17.5" fill="#EF6392" stroke="#000" stroke-width="2"/><clipPath id="h40"><rect x="1725.4" y="2361" width="10.9" height="17.5"/></clipPath><path d="M1725.4 2378.5L1736.3 2370.65M1725.4 2355L1736.3 2347.15M1725.4 2331.5L1736.3 2323.65" stroke="#000" stroke-width="1.2" fill="none" clip-path="url(#h40)"/><line x1="1730.5" y1="2348.4" x2="1730.5" y2="2372.3" stroke="#000" stroke-width="3.5"/><rect x="1749" y="2361" width="11.7" height="17.5" fill="#FBDDE4" stroke="#000" stroke-width="2"/><clipPath id="h41"><rect x="1749" y="2361" width="11.7" height="17.5"/></clipPath><path d="M1749 2378.5L1760.7 2370.08M1749 2355L1760.7 2346.58M1749 2331.5L1760.7 2323.08" stroke="#000" stroke-width="1.2" fill="none" clip-path="url(#h41)"/><line x1="1755" y1="2349.3" x2="1755" y2="2371.4" stroke="#000" stroke-width="3.5"/><rect x="1762.2" y="2366.8" width="11.1" height="11.7" fill="#EF6392" stroke="#000" stroke-width="2"/><line x1="1767.9" y1="2351.4" x2="1767.9" y2="2379.6" stroke="#000" stroke-width="3.5"/><rect x="1786.1" y="2362.2" width="12" height="16.3" fill="#FDF1F4" stroke="#000" stroke-width="2"/><clipPath id="h42"><rect x="1786.1" y="2362.2" width="12" height="16.3"/></clipPath><path d="M1786.1 2378.5L1798.1 2369.86M1786.1 2355L1798.1 2346.36M1786.1 2331.5L1798.1 2322.86" stroke="#000" stroke-width="1.2" fill="none" clip-path="url(#h42)"/><line x1="1791.8" y1="2345.3" x2="1791.8" y2="2378.4" stroke="#000" stroke-width="3.5"/><rect x="1799.6" y="2337.1" width="11.2" height="41.4" fill="#EF6392" stroke="#000" stroke-width="2"/><line x1="1805" y1="2320.1" x2="1805" y2="2352" stroke="#000" stroke-width="3.5"/><line x1="1829.5" y1="2366.1" x2="1829.5" y2="2379.6" stroke="#000" stroke-width="3.5"/><rect x="1837.3" y="2342.6" width="11.2" height="35.9" fill="#EF6392" stroke="#000" stroke-width="2"/><line x1="1842.4" y1="2330.6" x2="1842.4" y2="2352" stroke="#000" stroke-width="3.5"/><rect x="1874.7" y="2294.2" width="11.2" height="84.3" fill="#EF6392" stroke="#000" stroke-width="2"/><clipPath id="h43"><rect x="1874.7" y="2294.2" width="11.2" height="84.3"/></clipPath><path d="M1874.7 2378.5L1885.9 2370.44M1874.7 2355L1885.9 2346.94M1874.7 2331.5L1885.9 2323.44M1874.7 2308L1885.9 2299.94M1874.7 2284.5L1885.9 2276.44" stroke="#000" stroke-width="1.2" fill="none" clip-path="url(#h43)"/><line x1="1879.8" y1="2237" x2="1879.8" y2="2347.7" stroke="#000" stroke-width="3.5"/><line x1="1671.3" y1="2382" x2="1890.9" y2="2382" stroke="#555555" stroke-width="5"/><line x1="1673.8" y1="2218" x2="1673.8" y2="2384.5" stroke="#555555" stroke-width="5"/><text text-anchor="end" x="1664.6" y="2249.57">120</text><text text-anchor="end" x="1664.6" y="2293.38">80</text><text text-anchor="end" x="1664.6" y="2337.88">40</text><text text-anchor="end" x="1664.6" y="2382.28">0</text><rect x="1676.3" y="2508.2" width="9.9" height="76.8" fill="#FBDDE4" stroke="#000" stroke-width="2"/><rect x="1687.7" y="2449.9" width="11.1" height="135.1" fill="#EF6392" stroke="#000" stroke-width="2"/><rect x="1712.2" y="2521.7" width="11.7" height="63.3" fill="#FBDDE4" stroke="#000" stroke-width="2"/><rect x="1725.4" y="2564" width="10.9" height="21" fill="#EF6392" stroke="#000" stroke-width="2"/><rect x="1749" y="2571" width="11.7" height="14" fill="#FBDDE4" stroke="#000" stroke-width="2"/><rect x="1762.2" y="2569.2" width="11.1" height="15.8" fill="#EF6392" stroke="#000" stroke-width="2"/><rect x="1799.6" y="2502" width="11.2" height="83" fill="#EF6392" stroke="#000" stroke-width="2"/><rect x="1837.3" y="2476.6" width="11.2" height="108.4" fill="#EF6392" stroke="#000" stroke-width="2"/><rect x="1874.7" y="2564" width="11.2" height="21" fill="#EF6392" stroke="#000" stroke-width="2"/><line x1="1671.3" y1="2587.5" x2="1890.9" y2="2587.5" stroke="#555555" stroke-width="5"/><line x1="1673.8" y1="2426.5" x2="1673.8" y2="2590" stroke="#555555" stroke-width="5"/><text text-anchor="end" x="1664.6" y="2460.47">2.5</text><text text-anchor="end" x="1664.6" y="2514.18">1.5</text><text text-anchor="end" x="1664.6" y="2593.88">0</text><line x1="1674" y1="2519.1" x2="1883.8" y2="2519.1" stroke="#000" stroke-width="3.5" stroke-dasharray="8 6"/><text font-style="italic" x="1866" y="2506.3">p = 0.05</text><text text-anchor="end" font-weight="bold" transform="translate(1701.7 2612) rotate(-45)">SCZ</text><text text-anchor="end" font-weight="bold" transform="translate(1745.4 2612) rotate(-45)">ADHD</text><text text-anchor="end" font-weight="bold" transform="translate(1777.7 2615) rotate(-45)">MDD</text><text text-anchor="end" font-weight="bold" transform="translate(1815.1 2613.5) rotate(-45)">ASD</text><text text-anchor="end" font-weight="bold" transform="translate(1851.3 2615) rotate(-45)">BP</text><text text-anchor="end" font-weight="bold" fill="#C8392B" transform="translate(1888.7 2613.5) rotate(-45)">AD</text>
</svg></body></html>
